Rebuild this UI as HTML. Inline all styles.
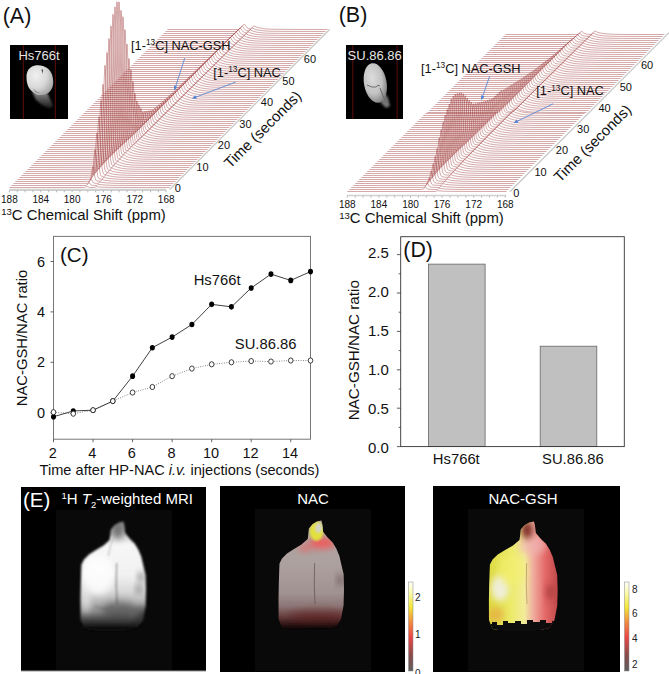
<!DOCTYPE html><html><head><meta charset="utf-8"><style>html,body{margin:0;padding:0;background:#fff;overflow:hidden;width:669px;height:674px;}svg{display:block;} text{font-family:"Liberation Sans", sans-serif;}</style></head><body><svg width="669" height="674" viewBox="0 0 669 674"><defs><filter id="bl1" x="-20%" y="-20%" width="140%" height="140%"><feGaussianBlur stdDeviation="1.2"/></filter><filter id="bl2" x="-20%" y="-20%" width="140%" height="140%"><feGaussianBlur stdDeviation="2.5"/></filter><filter id="bl4" x="-30%" y="-30%" width="160%" height="160%"><feGaussianBlur stdDeviation="4"/></filter></defs><rect width="669" height="674" fill="#fff"/><g fill="none" stroke="#9a3030" stroke-width="0.42"><polyline points="167.4,29.5 238.8,29.5 242.2,26.2 243.8,24.3 244.2,24.2 244.8,24.8 246.2,26.8 247.2,27.9 248.5,28.6 250.5,29.0 253.8,26.0 254.2,26.0 256.8,27.2 260.5,28.1 264.9,28.8 270.5,29.2 285.5,29.4 327.6,29.5"/><polyline points="165.4,31.5 236.5,31.5 236.8,31.5 241.8,26.2 242.2,26.1 242.8,26.7 244.2,28.7 245.2,29.8 246.5,30.5 248.5,31.0 251.8,28.0 252.2,28.0 254.8,29.2 258.5,30.1 262.9,30.7 268.5,31.2 283.5,31.4 325.6,31.5"/><polyline points="163.4,33.5 234.5,33.5 234.8,33.4 237.8,30.3 239.8,28.1 240.2,28.0 240.8,28.6 242.2,30.7 243.2,31.8 244.5,32.5 246.5,33.0 249.8,29.9 250.2,29.9 252.8,31.1 256.5,32.1 260.9,32.7 266.5,33.2 281.5,33.4 323.6,33.5"/><polyline points="161.4,35.5 232.5,35.5 236.2,31.9 237.8,30.0 238.2,29.9 238.8,30.5 240.2,32.6 241.2,33.8 242.5,34.5 244.5,35.0 247.8,31.9 248.2,31.9 250.8,33.1 254.5,34.1 258.9,34.7 264.5,35.1 279.5,35.4 321.6,35.5"/><polyline points="159.4,37.5 230.5,37.5 234.2,33.8 235.8,31.9 236.2,31.8 236.8,32.4 238.2,34.6 239.2,35.7 240.5,36.5 242.5,36.9 245.8,33.9 246.2,33.9 248.8,35.1 252.5,36.1 256.9,36.7 262.5,37.1 277.5,37.4 319.6,37.5"/><polyline points="157.4,39.5 228.2,39.5 228.5,39.4 232.2,35.7 233.8,33.8 234.2,33.7 234.8,34.3 236.2,36.5 237.2,37.7 238.5,38.5 240.2,38.9 240.5,38.9 243.8,35.9 244.2,35.8 246.8,37.1 250.5,38.1 254.9,38.7 260.5,39.1 275.5,39.4 317.6,39.5"/><polyline points="155.4,41.5 226.2,41.5 226.5,41.4 230.2,37.7 231.8,35.7 232.2,35.6 232.8,36.2 234.2,38.5 235.2,39.7 236.5,40.5 238.2,40.9 238.5,40.9 241.8,37.8 242.2,37.8 244.8,39.1 248.5,40.1 252.9,40.7 258.5,41.1 273.5,41.4 315.6,41.5"/><polyline points="153.4,43.5 224.2,43.5 224.5,43.4 228.2,39.7 229.8,37.6 230.2,37.5 230.8,38.1 232.2,40.4 233.2,41.7 234.5,42.5 236.2,42.9 236.5,42.9 239.8,39.8 240.2,39.8 242.8,41.1 246.5,42.0 250.9,42.7 256.5,43.1 271.5,43.4 313.6,43.5"/><polyline points="151.4,45.5 222.2,45.5 222.5,45.4 225.2,42.7 227.8,39.6 228.2,39.4 228.8,40.0 230.2,42.3 231.2,43.7 232.5,44.5 234.2,44.9 234.5,44.8 237.8,41.8 238.2,41.8 240.8,43.0 244.5,44.0 248.9,44.7 254.5,45.1 269.5,45.4 311.6,45.5"/><polyline points="149.4,47.5 220.2,47.5 220.5,47.4 223.5,44.4 225.8,41.5 226.2,41.4 226.8,41.8 228.5,44.8 229.2,45.6 230.5,46.5 232.2,46.9 232.5,46.8 235.8,43.8 236.2,43.7 238.8,45.0 242.5,46.0 246.9,46.7 252.5,47.1 267.5,47.4 309.6,47.5"/><polyline points="147.4,49.5 218.2,49.5 218.5,49.4 221.8,46.0 223.8,43.5 224.2,43.3 224.8,43.7 226.5,46.8 227.2,47.6 228.5,48.5 230.2,48.9 230.8,48.5 233.8,45.7 234.2,45.7 236.8,47.0 240.5,48.0 244.9,48.7 250.5,49.1 265.5,49.4 307.6,49.5"/><polyline points="145.4,51.5 216.2,51.5 216.5,51.4 219.8,48.0 221.8,45.4 222.2,45.2 222.8,45.6 224.5,48.7 225.2,49.6 226.5,50.5 228.2,50.9 231.8,47.7 232.2,47.7 234.8,49.0 238.5,50.0 242.9,50.7 248.5,51.1 263.5,51.4 305.6,51.5"/><polyline points="143.4,53.5 214.2,53.5 214.5,53.4 217.8,50.0 220.2,47.1 220.8,47.5 222.5,50.7 223.2,51.6 224.5,52.4 226.2,52.9 229.8,49.7 230.2,49.7 232.8,51.0 236.5,52.0 240.9,52.7 246.5,53.1 261.5,53.4 303.6,53.5"/><polyline points="141.4,55.5 212.2,55.5 212.5,55.4 215.8,52.0 218.2,49.0 218.8,49.4 220.5,52.7 221.2,53.6 222.2,54.3 224.2,54.9 227.8,51.7 228.2,51.7 230.8,53.0 234.5,54.0 238.9,54.7 244.5,55.1 259.5,55.4 301.6,55.5"/><polyline points="139.4,57.5 210.2,57.5 210.5,57.4 214.2,53.7 216.2,51.0 216.8,51.3 218.5,54.6 219.2,55.6 220.2,56.3 222.2,56.9 225.8,53.6 226.2,53.6 228.8,54.9 232.5,56.0 236.9,56.7 242.5,57.1 257.5,57.4 299.6,57.5"/><polyline points="137.4,59.5 208.2,59.5 208.5,59.4 212.2,55.7 214.2,52.9 214.8,53.2 216.5,56.6 217.2,57.5 218.2,58.3 220.2,58.9 223.8,55.6 224.2,55.6 226.8,56.9 230.5,58.0 234.9,58.7 240.5,59.1 255.5,59.4 297.6,59.5"/><polyline points="135.4,61.5 206.2,61.5 206.5,61.4 210.2,57.7 212.2,54.8 212.5,54.8 212.8,55.1 214.5,58.5 215.2,59.5 216.2,60.3 218.2,60.9 221.8,57.6 222.2,57.6 224.8,58.9 228.5,60.0 232.9,60.7 238.5,61.1 253.5,61.4 295.6,61.5"/><polyline points="133.4,63.5 204.2,63.5 204.5,63.4 208.2,59.7 210.2,56.7 210.5,56.7 211.2,57.5 212.5,60.5 213.2,61.5 214.2,62.3 216.2,62.9 219.8,59.6 220.2,59.6 222.8,60.9 226.5,62.0 230.9,62.7 236.5,63.1 251.5,63.4 293.6,63.5"/><polyline points="131.4,65.5 202.2,65.5 202.5,65.4 205.8,62.0 206.8,60.8 207.8,59.0 208.2,58.7 208.5,58.6 209.2,59.4 210.5,62.5 211.2,63.5 212.2,64.3 214.2,64.9 217.8,61.5 218.2,61.5 220.8,62.9 224.5,63.9 228.9,64.7 234.5,65.1 249.5,65.4 291.6,65.5"/><polyline points="129.4,67.5 200.2,67.5 200.5,67.4 203.8,64.0 204.8,62.8 205.8,61.0 206.2,60.6 206.5,60.6 207.2,61.3 208.5,64.4 209.2,65.5 210.2,66.3 211.8,66.8 212.2,66.8 215.8,63.5 216.2,63.5 218.8,64.9 222.5,65.9 226.9,66.7 232.5,67.1 247.5,67.4 289.6,67.5"/><polyline points="127.4,69.5 198.2,69.5 198.5,69.4 201.8,66.0 202.8,64.8 203.8,62.9 204.2,62.5 204.5,62.4 205.2,63.2 206.5,66.4 207.2,67.5 208.2,68.3 209.8,68.8 210.2,68.8 213.8,65.5 214.2,65.5 216.8,66.9 220.5,67.9 224.9,68.6 230.5,69.1 245.5,69.4 287.6,69.5"/><polyline points="125.4,71.5 196.2,71.5 196.5,71.4 199.8,68.0 200.8,66.7 201.8,64.8 202.2,64.4 202.5,64.3 203.2,65.1 204.5,68.3 205.2,69.4 206.2,70.3 207.8,70.8 208.2,70.8 211.8,67.5 212.2,67.5 214.8,68.8 218.5,69.9 222.9,70.6 228.5,71.1 243.5,71.4 285.6,71.5"/><polyline points="123.4,73.5 194.2,73.5 194.5,73.4 198.2,69.6 199.2,68.2 199.8,66.8 200.2,66.3 200.5,66.2 201.2,67.0 202.5,70.3 203.2,71.4 204.2,72.3 205.8,72.8 206.5,72.5 209.8,69.5 210.2,69.4 212.8,70.8 216.5,71.9 220.9,72.6 226.5,73.1 241.5,73.4 283.6,73.5"/><polyline points="121.4,75.5 192.2,75.5 192.5,75.4 196.2,71.6 197.2,70.1 197.8,68.7 198.2,68.2 198.5,68.1 199.2,68.9 200.5,72.2 201.2,73.4 202.2,74.3 203.8,74.8 204.5,74.5 207.8,71.4 208.2,71.4 210.8,72.8 214.5,73.9 218.9,74.6 224.5,75.1 239.5,75.4 281.6,75.5"/><polyline points="119.4,77.5 190.2,77.5 190.5,77.4 194.2,73.6 195.2,72.1 195.8,70.6 196.2,70.2 196.5,70.0 197.2,70.8 198.5,74.2 199.2,75.4 200.2,76.3 201.8,76.8 202.5,76.4 205.8,73.4 206.2,73.4 208.8,74.8 212.5,75.9 216.9,76.6 222.5,77.1 237.5,77.4 279.6,77.5"/><polyline points="117.4,79.5 188.2,79.5 188.5,79.4 192.2,75.6 193.2,74.1 193.8,72.6 194.2,72.1 194.5,71.9 195.2,72.6 196.5,76.1 197.2,77.4 198.2,78.3 199.8,78.8 200.8,78.1 203.8,75.4 204.2,75.4 206.8,76.8 210.5,77.9 214.9,78.6 220.5,79.1 235.5,79.4 277.6,79.5"/><polyline points="115.4,81.5 186.2,81.5 186.5,81.4 190.2,77.6 191.2,76.0 191.8,74.5 192.2,74.0 192.5,73.8 193.2,74.5 194.5,78.1 195.2,79.4 196.2,80.3 197.8,80.8 198.8,80.1 201.8,77.4 202.2,77.4 204.8,78.8 208.5,79.9 212.9,80.6 218.5,81.1 233.5,81.4 275.6,81.5"/><polyline points="113.4,83.5 184.2,83.5 184.5,83.4 188.2,79.6 189.2,78.0 189.8,76.4 190.2,75.9 190.5,75.7 190.8,75.9 191.2,76.4 192.5,80.1 193.2,81.3 194.2,82.3 195.8,82.8 199.8,79.3 200.2,79.3 202.8,80.7 206.5,81.9 210.9,82.6 216.5,83.1 231.5,83.4 273.6,83.5"/><polyline points="111.4,85.5 182.2,85.5 182.5,85.4 186.2,81.6 187.2,80.0 187.8,78.4 188.5,77.6 188.8,77.8 189.2,78.3 190.5,82.0 191.2,83.3 192.2,84.2 193.8,84.8 197.8,81.3 198.2,81.3 200.8,82.7 204.5,83.9 208.9,84.6 214.5,85.1 229.5,85.4 271.6,85.5"/><polyline points="109.4,87.5 180.2,87.5 180.5,87.4 184.2,83.6 185.2,82.0 185.8,80.3 186.5,79.5 186.8,79.6 187.2,80.2 188.5,84.0 189.2,85.3 190.2,86.2 191.8,86.8 195.8,83.3 196.2,83.3 198.8,84.7 202.5,85.8 206.9,86.6 212.5,87.1 227.5,87.4 269.6,87.5"/><polyline points="107.4,89.5 178.2,89.5 178.5,89.4 182.2,85.6 182.8,84.6 184.2,81.6 184.5,81.4 184.8,81.5 185.2,82.1 186.5,85.9 187.2,87.3 188.2,88.2 189.8,88.8 193.8,85.3 194.2,85.3 196.8,86.7 200.5,87.8 204.9,88.6 210.5,89.1 225.5,89.4 267.6,89.5"/><polyline points="105.4,91.5 176.2,91.5 176.5,91.4 180.2,87.6 181.2,85.9 182.2,83.5 182.5,83.3 182.8,83.4 183.2,83.9 184.5,87.9 185.2,89.3 186.2,90.2 187.8,90.8 191.8,87.3 192.2,87.2 194.8,88.7 198.5,89.8 202.9,90.6 208.5,91.1 223.5,91.4 265.6,91.5"/><polyline points="103.4,93.5 174.2,93.5 174.5,93.4 178.2,89.6 179.2,87.9 180.2,85.5 180.5,85.2 180.8,85.3 181.2,85.8 182.5,89.8 183.2,91.2 184.2,92.2 185.8,92.8 189.8,89.2 190.2,89.2 192.8,90.7 196.5,91.8 200.9,92.6 206.5,93.1 221.5,93.4 263.6,93.5"/><polyline points="101.4,95.5 172.2,95.5 172.5,95.4 176.2,91.6 177.2,89.8 178.2,87.4 178.5,87.1 178.8,87.2 179.2,87.7 180.5,91.8 181.2,93.2 182.2,94.2 183.8,94.8 187.8,91.2 188.2,91.2 190.8,92.7 194.5,93.8 198.9,94.6 204.5,95.1 219.5,95.4 261.6,95.5"/><polyline points="99.4,97.5 170.2,97.5 170.5,97.4 174.2,93.6 175.2,91.8 176.2,89.3 176.5,89.0 176.8,89.1 177.2,89.6 178.5,93.7 179.2,95.2 180.2,96.2 181.8,96.8 185.8,93.2 186.2,93.2 188.8,94.6 192.5,95.8 196.9,96.6 202.5,97.1 217.5,97.4 259.6,97.5"/><polyline points="97.4,99.5 168.2,99.5 168.5,99.4 172.2,95.6 173.2,93.8 174.2,91.2 174.5,90.9 174.8,91.0 175.2,91.5 176.5,95.7 177.2,97.2 178.2,98.2 179.5,98.7 179.8,98.7 183.8,95.2 184.2,95.2 186.8,96.6 190.5,97.8 194.9,98.6 200.5,99.1 215.5,99.4 257.6,99.5"/><polyline points="95.4,101.5 166.2,101.5 166.5,101.4 170.2,97.6 171.2,95.7 172.2,93.1 172.5,92.8 172.8,92.8 173.2,93.4 174.5,97.6 175.2,99.2 176.2,100.2 177.5,100.7 177.8,100.7 181.8,97.2 182.2,97.1 184.8,98.6 188.5,99.8 192.9,100.6 198.5,101.1 213.5,101.4 255.6,101.5"/><polyline points="93.4,103.5 164.2,103.5 164.5,103.4 168.2,99.5 168.8,98.4 169.8,95.7 170.5,94.5 170.8,94.5 171.2,95.1 172.5,99.5 173.2,101.1 174.2,102.2 175.5,102.7 176.2,102.4 179.8,99.1 180.2,99.1 182.8,100.6 186.5,101.8 190.9,102.6 196.5,103.1 211.5,103.4 253.6,103.5"/><polyline points="91.4,105.5 162.2,105.5 162.5,105.4 166.2,101.5 166.8,100.4 168.2,96.7 168.5,96.2 168.8,96.2 169.2,96.8 170.5,101.4 171.2,103.1 172.2,104.2 173.5,104.7 173.8,104.7 174.5,104.1 177.8,101.1 178.2,101.1 180.8,102.6 184.5,103.8 188.9,104.6 194.5,105.1 209.5,105.4 251.6,105.5"/><polyline points="89.4,107.5 160.2,107.5 160.5,107.4 164.2,103.5 165.2,101.5 166.2,98.4 166.5,98.0 166.8,97.9 167.5,99.5 168.5,103.3 169.2,105.0 170.2,106.2 171.5,106.7 171.8,106.7 172.5,106.1 175.8,103.1 176.2,103.1 178.8,104.6 182.5,105.8 186.9,106.6 192.5,107.1 207.5,107.4 249.6,107.5"/><polyline points="87.4,109.5 158.2,109.5 158.5,109.4 162.2,105.5 163.2,103.4 164.2,100.2 164.5,99.7 164.8,99.6 165.5,101.2 166.5,105.1 167.2,107.0 168.2,108.2 169.5,108.7 170.5,108.1 173.8,105.1 174.2,105.1 176.8,106.6 180.5,107.8 184.9,108.6 190.5,109.1 205.5,109.4 247.6,109.5"/><polyline points="85.4,111.5 156.2,111.5 156.5,111.4 160.2,107.5 161.2,105.4 162.2,102.0 162.5,101.4 162.8,101.4 163.5,102.9 164.5,107.0 165.2,108.9 166.2,110.2 167.5,110.7 168.5,110.1 171.8,107.1 172.2,107.1 174.8,108.6 178.5,109.8 182.9,110.6 188.5,111.1 203.5,111.4 245.6,111.5"/><polyline points="83.4,113.5 154.5,113.4 158.2,109.5 159.2,107.3 160.2,103.8 160.5,103.1 160.8,103.1 161.5,104.6 162.5,108.9 163.2,110.9 164.2,112.2 165.5,112.7 166.5,112.1 169.8,109.0 170.2,109.0 172.8,110.6 176.5,111.8 180.9,112.6 186.5,113.1 201.5,113.4 243.6,113.5"/><polyline points="81.4,115.5 152.5,115.4 156.2,111.5 157.2,109.2 158.2,105.5 158.5,104.9 158.8,104.8 159.5,106.4 160.5,110.8 161.2,112.8 162.2,114.1 163.5,114.7 164.8,113.8 167.8,111.0 168.2,111.0 170.8,112.5 174.5,113.7 178.9,114.5 184.5,115.1 199.5,115.4 241.6,115.5"/><polyline points="79.4,117.5 150.5,117.4 154.2,113.4 155.2,111.1 156.2,107.3 156.5,106.6 156.8,106.5 157.5,108.1 158.5,112.6 159.2,114.8 160.2,116.1 161.5,116.7 162.8,115.8 165.8,113.0 166.2,113.0 168.8,114.5 172.5,115.7 176.9,116.5 182.5,117.1 197.5,117.4 239.6,117.5"/><polyline points="77.4,119.5 148.5,119.5 152.2,115.4 153.2,113.0 154.2,109.1 154.5,108.3 154.8,108.2 155.5,109.8 156.5,114.5 157.2,116.7 158.2,118.1 159.5,118.7 160.8,117.7 163.8,115.0 164.2,115.0 166.8,116.5 170.5,117.7 174.9,118.5 180.5,119.1 195.5,119.4 237.6,119.5"/><polyline points="75.4,121.5 146.5,121.5 149.2,118.7 150.2,117.4 151.2,115.0 152.2,110.9 152.5,110.1 152.8,109.9 153.5,111.5 154.5,116.4 155.2,118.6 156.2,120.1 157.5,120.7 158.8,119.7 161.8,117.0 162.2,117.0 164.8,118.5 168.5,119.7 172.9,120.5 178.5,121.1 193.5,121.4 235.6,121.5"/><polyline points="73.4,123.5 144.5,123.4 147.5,120.3 148.5,118.6 149.2,116.5 150.2,111.6 150.5,110.6 150.8,110.3 151.2,110.8 151.5,112.1 152.5,117.7 153.2,120.3 153.5,121.1 154.2,122.0 155.5,122.7 156.8,121.7 159.8,119.0 160.2,119.0 162.8,120.5 166.5,121.7 170.9,122.5 176.5,123.1 191.5,123.4 233.6,123.5"/><polyline points="71.4,125.5 142.5,125.4 145.5,122.3 146.5,120.4 147.2,118.0 148.2,112.4 148.5,111.2 148.8,110.7 149.2,111.2 149.5,112.6 151.2,122.0 151.5,122.9 152.2,124.0 153.5,124.7 154.8,123.7 157.8,121.0 158.2,121.0 160.8,122.5 164.5,123.7 168.9,124.5 174.5,125.1 189.5,125.4 231.6,125.5"/><polyline points="69.4,127.5 140.5,127.4 143.5,124.2 144.5,122.2 145.2,119.5 146.2,113.2 146.5,111.7 146.8,111.1 147.2,111.6 147.5,113.2 149.2,123.7 149.5,124.7 150.2,125.9 151.5,126.6 152.8,125.7 155.8,123.0 156.2,122.9 158.8,124.5 162.5,125.7 166.9,126.5 172.5,127.1 187.5,127.4 229.6,127.5"/><polyline points="67.4,129.5 138.5,129.4 141.2,126.6 142.2,125.0 142.8,122.7 144.2,113.9 144.5,112.2 144.8,111.5 145.2,112.0 145.5,113.7 147.2,125.3 147.5,126.5 148.2,127.8 149.5,128.6 150.8,127.7 153.8,125.0 154.2,125.0 156.8,126.5 160.5,127.7 164.9,128.5 170.2,129.0 185.2,129.4 227.6,129.5"/><polyline points="65.4,131.5 136.5,131.4 139.2,128.6 140.2,126.8 140.8,124.4 142.2,114.6 142.5,112.8 142.8,111.9 143.2,112.5 143.5,114.2 144.8,125.0 145.5,128.3 146.2,129.7 146.8,130.3 147.5,130.6 148.8,129.7 151.8,127.0 152.2,127.0 154.8,128.5 158.5,129.7 162.9,130.5 168.2,131.0 183.2,131.4 225.6,131.5"/><polyline points="63.4,133.5 134.5,133.4 137.2,130.4 138.2,128.2 138.8,124.9 140.2,112.0 140.8,108.3 141.2,108.8 141.5,110.9 142.8,124.9 143.5,129.3 144.2,131.3 144.8,132.1 145.5,132.5 146.8,131.7 149.8,129.0 150.2,129.0 152.8,130.5 156.5,131.7 160.9,132.5 166.2,133.0 181.2,133.4 223.6,133.5"/><polyline points="61.4,135.5 120.5,135.5 132.5,135.3 134.2,133.6 135.2,132.3 136.2,129.5 136.8,125.1 138.2,109.2 138.8,104.6 139.2,105.1 139.5,107.5 140.8,124.4 141.5,130.1 142.2,132.8 142.8,133.9 143.5,134.4 143.8,134.4 144.8,133.6 147.8,131.0 148.2,131.0 150.8,132.5 154.5,133.7 158.9,134.5 164.2,135.0 179.2,135.4 221.6,135.5"/><polyline points="59.4,137.5 118.5,137.5 130.5,137.3 132.2,135.5 133.2,134.0 134.2,130.5 134.8,125.2 136.2,106.3 136.8,100.9 137.2,101.4 137.5,104.1 138.8,123.7 139.5,130.7 140.2,134.2 140.8,135.7 141.5,136.2 142.2,136.1 145.8,133.0 146.2,133.0 148.8,134.5 152.5,135.7 156.9,136.5 162.2,137.0 177.2,137.4 219.6,137.5"/><polyline points="57.4,139.5 118.8,139.4 126.5,139.3 128.5,139.1 128.8,139.0 130.5,136.8 131.2,135.5 131.8,132.8 132.2,130.6 132.8,123.3 134.2,99.8 134.8,93.3 135.2,93.7 135.5,96.8 137.5,129.8 137.8,132.8 138.5,136.2 138.8,137.1 139.5,138.0 139.8,138.1 140.5,137.7 143.8,135.0 144.2,135.0 146.8,136.5 150.5,137.7 154.9,138.5 160.2,139.0 175.2,139.4 217.6,139.5"/><polyline points="55.4,141.5 116.1,141.4 123.8,141.2 126.2,141.0 126.8,140.8 128.2,139.0 128.8,137.5 129.5,134.6 129.8,132.3 130.5,124.5 132.2,89.5 132.8,81.6 133.2,82.1 133.5,85.6 135.2,121.3 135.8,131.1 136.2,134.3 136.8,137.9 137.2,138.8 137.8,139.7 139.2,139.1 141.8,136.9 142.5,137.1 143.5,137.8 145.2,138.6 148.5,139.7 152.9,140.5 158.2,141.0 173.2,141.4 215.6,141.5"/><polyline points="53.4,143.5 113.5,143.4 121.5,143.2 124.8,142.7 126.2,140.7 127.2,137.7 128.2,128.8 128.8,116.4 130.2,80.0 130.8,70.0 131.2,70.5 131.5,74.7 133.2,118.7 133.8,130.9 134.2,134.7 134.8,139.2 135.2,140.3 135.8,141.5 137.2,141.0 139.8,138.9 140.5,139.0 141.5,139.8 143.2,140.6 146.5,141.7 150.9,142.5 156.2,143.0 171.2,143.4 213.6,143.5"/><polyline points="51.4,145.5 111.1,145.4 119.2,145.1 122.8,144.6 124.2,142.5 125.2,139.0 125.8,133.4 126.2,128.6 126.8,113.9 128.2,70.5 128.8,58.4 129.2,58.8 129.5,63.8 131.2,116.1 131.8,130.6 132.5,138.4 133.2,141.9 133.8,143.2 134.5,143.2 135.2,142.9 137.8,140.8 138.5,141.0 139.5,141.8 141.2,142.6 144.5,143.7 148.9,144.5 154.2,145.0 169.5,145.4 211.6,145.5"/><polyline points="49.4,147.5 111.1,147.3 118.5,146.9 120.8,146.4 121.2,146.0 122.5,143.3 123.2,140.3 123.8,133.6 124.2,128.0 124.8,110.4 126.2,58.6 126.8,44.0 127.2,44.4 127.5,50.3 129.2,112.6 129.8,129.9 130.5,139.2 131.2,143.3 131.8,144.9 132.5,145.0 133.2,144.7 135.8,142.8 136.5,143.0 137.5,143.8 139.2,144.6 142.5,145.7 146.9,146.5 152.2,147.0 167.5,147.4 209.6,147.5"/><polyline points="47.4,149.5 108.8,149.3 116.2,148.9 118.5,148.4 119.2,147.9 119.8,146.7 120.5,145.0 121.2,141.5 121.8,133.8 122.2,127.3 122.8,107.0 124.2,46.8 124.8,29.6 125.2,30.0 125.5,36.8 127.2,109.1 127.8,129.3 128.5,140.0 129.2,144.7 129.8,146.6 130.2,146.9 131.2,146.6 133.8,144.8 134.5,145.0 135.5,145.7 137.2,146.6 140.5,147.7 144.9,148.5 150.2,149.0 165.5,149.4 207.6,149.5"/><polyline points="45.4,151.5 91.8,151.4 107.8,151.3 112.1,151.0 115.2,150.6 116.8,150.1 117.5,149.2 118.5,146.7 119.2,142.8 119.8,134.3 120.2,127.0 120.8,104.1 122.2,36.2 122.8,16.7 123.2,17.1 123.5,24.7 125.2,106.1 125.8,128.8 126.5,140.9 127.2,146.2 127.8,148.3 128.2,148.7 128.8,148.7 130.2,148.0 131.8,146.7 132.2,146.8 133.5,147.7 135.2,148.6 139.2,149.8 144.5,150.7 151.5,151.2 165.9,151.4 205.6,151.5"/><polyline points="43.4,153.5 89.5,153.4 105.5,153.3 109.8,153.0 112.8,152.6 114.8,152.0 115.5,151.2 116.5,148.5 117.2,144.5 117.8,135.4 118.2,127.6 118.8,103.3 120.2,31.1 120.8,10.3 121.2,10.7 121.5,18.7 123.2,105.3 123.8,129.4 124.5,142.3 125.2,147.9 125.8,150.2 126.2,150.6 126.8,150.6 128.2,150.0 129.8,148.8 130.2,148.8 131.5,149.8 133.2,150.6 137.2,151.8 142.2,152.7 149.2,153.2 163.9,153.4 203.6,153.5"/><polyline points="41.4,155.5 87.5,155.4 103.5,155.2 107.8,155.0 110.8,154.6 112.8,153.9 113.2,153.7 113.5,153.1 114.5,150.4 115.2,146.1 115.8,136.3 116.2,128.0 116.8,101.9 118.2,24.3 118.8,1.9 119.2,2.2 119.5,10.8 121.2,103.8 121.8,129.7 122.5,143.5 123.2,149.6 123.8,152.0 124.2,152.5 124.8,152.6 126.2,152.0 127.8,150.8 128.2,150.8 129.5,151.8 130.8,152.4 134.8,153.8 139.9,154.6 146.5,155.1 161.9,155.4 201.6,155.5"/><polyline points="39.4,157.5 85.1,157.4 101.1,157.2 105.5,157.0 108.5,156.6 110.8,155.9 111.5,155.2 112.5,152.4 113.2,148.1 113.8,138.2 114.2,129.8 114.8,103.3 116.2,24.7 116.8,1.9 117.2,2.2 117.5,10.9 119.2,105.2 119.8,131.4 120.5,145.4 121.2,151.5 121.8,153.9 122.2,154.5 122.8,154.6 124.2,154.0 125.8,152.8 126.2,152.9 127.5,153.8 128.8,154.5 132.8,155.8 137.9,156.6 144.5,157.1 159.9,157.4 199.6,157.5"/><polyline points="37.4,159.5 82.8,159.4 98.8,159.3 106.2,158.7 108.5,158.1 109.5,157.3 110.5,154.6 111.2,150.3 111.8,140.6 112.2,132.3 112.8,106.4 114.2,29.2 114.8,6.8 115.2,7.2 115.5,15.7 117.2,108.2 117.8,133.9 118.5,147.6 119.2,153.6 119.8,156.0 120.2,156.6 120.5,156.8 120.8,156.8 122.2,156.1 123.8,155.0 124.2,155.0 126.8,156.6 130.8,157.8 135.9,158.7 142.5,159.1 157.9,159.4 197.6,159.5"/><polyline points="35.4,161.5 96.5,161.3 103.8,160.8 106.2,160.2 107.5,159.5 108.5,156.9 109.2,152.7 109.8,143.4 110.2,135.4 110.8,110.3 112.2,35.9 112.8,14.3 113.2,14.6 113.5,22.9 115.2,112.0 115.8,136.8 116.5,150.0 117.2,155.9 117.8,158.1 118.5,159.0 118.8,158.9 120.2,158.3 121.8,157.1 122.2,157.1 124.8,158.6 128.8,159.9 133.9,160.7 140.5,161.1 155.9,161.4 195.6,161.5"/><polyline points="33.4,163.5 79.8,163.4 95.8,163.2 100.1,163.0 103.2,162.6 105.2,161.9 105.8,161.1 106.5,159.2 107.2,155.3 107.8,146.5 108.2,139.0 108.8,115.6 110.2,46.0 110.8,25.9 111.2,26.2 111.5,33.9 113.2,117.2 113.8,140.4 114.5,152.8 115.2,158.2 115.8,160.3 116.5,161.2 116.8,161.2 118.2,160.5 119.8,159.3 120.2,159.3 122.8,160.7 126.8,161.9 131.9,162.7 138.5,163.2 153.9,163.4 193.6,163.5"/><polyline points="31.4,165.5 93.5,165.3 97.8,165.1 100.8,164.7 102.8,164.2 103.8,163.5 104.5,161.7 105.2,158.0 105.8,149.9 106.2,142.9 106.8,121.3 108.2,57.1 108.8,38.6 109.2,39.0 109.5,46.1 111.2,122.8 111.8,144.2 112.5,155.6 113.2,160.6 113.8,162.6 114.5,163.4 114.8,163.4 116.2,162.7 117.8,161.4 118.2,161.5 119.5,162.3 121.2,163.0 125.2,164.1 130.2,164.8 136.9,165.2 151.9,165.4 191.6,165.5"/><polyline points="29.4,167.5 91.5,167.3 98.5,166.9 100.5,166.4 101.8,165.7 102.5,164.2 103.2,160.8 103.8,153.4 104.2,147.0 104.8,127.4 106.2,69.3 106.8,52.5 107.2,52.8 107.5,59.3 109.2,128.8 109.8,148.2 110.5,158.5 111.2,163.0 111.8,164.8 112.8,165.7 115.8,163.6 116.2,163.7 117.5,164.4 119.2,165.1 123.2,166.1 128.2,166.8 135.2,167.2 149.9,167.4 189.6,167.5"/><polyline points="27.4,169.5 90.5,169.3 94.8,169.1 97.5,168.8 99.2,168.3 100.2,167.5 100.8,165.4 101.5,160.8 102.2,151.0 102.8,133.2 104.2,80.5 104.8,65.4 105.2,65.7 105.5,71.6 107.2,134.5 107.8,152.0 108.5,161.3 109.2,165.4 109.8,167.1 110.8,167.9 111.8,167.4 113.8,165.8 114.2,165.9 117.2,167.2 121.2,168.2 126.5,168.9 133.5,169.2 147.9,169.4 187.6,169.5"/><polyline points="25.4,171.5 88.5,171.3 95.5,170.9 97.2,170.5 98.2,169.8 98.5,169.3 99.2,166.6 99.8,160.8 100.2,156.0 100.8,141.0 102.2,96.9 102.8,84.3 103.2,84.6 103.5,89.5 105.2,142.2 105.8,156.8 106.5,164.6 107.2,168.1 107.8,169.4 108.5,170.0 109.2,170.2 111.8,168.1 112.2,168.1 114.5,169.2 118.2,170.1 122.5,170.7 128.2,171.1 143.5,171.4 185.6,171.5"/><polyline points="23.4,173.5 86.5,173.4 93.5,173.0 95.2,172.7 96.2,172.1 96.8,170.9 97.2,169.5 98.2,160.5 98.8,147.9 100.2,110.9 100.8,100.5 101.2,100.8 101.5,104.9 103.2,148.9 103.8,161.2 104.5,167.7 105.2,170.6 105.8,171.7 107.2,172.5 109.8,170.4 110.2,170.4 112.5,171.3 116.2,172.2 120.5,172.8 126.2,173.2 141.5,173.4 183.6,173.5"/><polyline points="21.4,175.5 84.1,175.4 91.5,175.1 93.2,174.8 94.2,174.4 94.8,173.6 95.2,172.6 96.2,165.2 96.8,155.0 98.2,125.1 98.8,116.7 99.2,117.0 99.5,120.3 101.2,155.8 101.8,165.6 102.5,170.8 103.2,173.1 103.8,174.0 104.5,174.4 105.5,174.7 107.8,172.7 108.2,172.6 110.8,173.6 114.5,174.4 118.9,174.9 124.2,175.2 139.5,175.5 181.6,175.5"/><polyline points="19.4,177.5 82.8,177.4 89.8,177.2 91.5,177.0 92.5,176.7 93.2,176.0 93.5,175.1 94.5,168.3 96.2,140.2 96.8,133.0 97.2,133.2 97.5,136.1 99.5,168.7 99.8,171.5 100.5,174.8 101.2,176.0 101.8,176.5 103.5,176.9 105.8,175.0 106.2,175.0 108.8,175.8 112.5,176.5 116.9,177.0 122.2,177.2 137.2,177.5 179.6,177.5"/><polyline points="17.4,179.5 81.5,179.5 88.2,179.3 90.8,179.0 91.5,178.5 91.8,177.8 92.5,174.7 93.2,168.6 94.2,155.3 94.8,149.9 95.2,150.1 95.5,152.3 96.8,169.2 97.5,174.8 98.2,177.4 98.8,178.4 99.5,178.8 101.8,179.2 103.8,177.3 104.2,177.3 106.8,178.1 110.5,178.6 120.2,179.3 135.2,179.5 177.6,179.5"/><polyline points="15.4,181.5 80.1,181.5 89.2,181.3 90.2,180.7 90.8,178.5 92.2,169.7 92.8,166.8 93.2,166.9 93.5,168.2 95.2,178.6 95.8,180.2 96.5,180.8 97.2,181.0 100.2,181.3 101.8,179.7 102.2,179.6 104.8,180.3 108.5,180.8 118.2,181.3 175.6,181.5"/><polyline points="13.4,183.5 87.5,183.4 88.5,183.2 88.8,182.8 90.2,179.5 90.8,178.6 91.2,178.7 91.5,179.2 92.5,181.5 93.2,182.6 94.2,183.1 95.8,183.3 98.5,183.3 99.8,182.0 100.2,182.0 102.8,182.5 106.5,182.9 116.5,183.4 173.6,183.5"/><polyline points="11.4,185.5 85.5,185.5 86.5,185.3 87.2,185.0 88.2,183.1 88.8,182.6 89.5,182.9 90.5,184.4 91.2,185.0 91.8,185.2 93.5,185.4 96.5,185.5 96.8,185.4 97.8,184.4 98.2,184.3 104.5,185.0 114.5,185.4 171.6,185.5"/><polyline points="9.4,187.5 83.5,187.5 84.8,187.4 86.5,186.6 87.2,186.5 89.2,187.4 90.8,187.5 94.8,187.5 95.2,187.4 95.8,186.8 96.2,186.7 102.5,187.2 112.5,187.4 169.6,187.5"/></g><line x1="9.4" y1="189.8" x2="166.2" y2="189.8" stroke="#d0d0d0" stroke-width="2.2"/><line x1="9.4" y1="190.6" x2="9.4" y2="192.3" stroke="#888" stroke-width="0.6"/><line x1="17.24" y1="190.6" x2="17.24" y2="192.3" stroke="#888" stroke-width="0.6"/><line x1="25.08" y1="190.6" x2="25.08" y2="192.3" stroke="#888" stroke-width="0.6"/><line x1="32.92" y1="190.6" x2="32.92" y2="192.3" stroke="#888" stroke-width="0.6"/><line x1="40.76" y1="190.6" x2="40.76" y2="192.3" stroke="#888" stroke-width="0.6"/><line x1="48.6" y1="190.6" x2="48.6" y2="192.3" stroke="#888" stroke-width="0.6"/><line x1="56.44" y1="190.6" x2="56.44" y2="192.3" stroke="#888" stroke-width="0.6"/><line x1="64.28" y1="190.6" x2="64.28" y2="192.3" stroke="#888" stroke-width="0.6"/><line x1="72.12" y1="190.6" x2="72.12" y2="192.3" stroke="#888" stroke-width="0.6"/><line x1="79.96" y1="190.6" x2="79.96" y2="192.3" stroke="#888" stroke-width="0.6"/><line x1="87.8" y1="190.6" x2="87.8" y2="192.3" stroke="#888" stroke-width="0.6"/><line x1="95.64" y1="190.6" x2="95.64" y2="192.3" stroke="#888" stroke-width="0.6"/><line x1="103.48" y1="190.6" x2="103.48" y2="192.3" stroke="#888" stroke-width="0.6"/><line x1="111.32" y1="190.6" x2="111.32" y2="192.3" stroke="#888" stroke-width="0.6"/><line x1="119.16" y1="190.6" x2="119.16" y2="192.3" stroke="#888" stroke-width="0.6"/><line x1="127" y1="190.6" x2="127" y2="192.3" stroke="#888" stroke-width="0.6"/><line x1="134.84" y1="190.6" x2="134.84" y2="192.3" stroke="#888" stroke-width="0.6"/><line x1="142.68" y1="190.6" x2="142.68" y2="192.3" stroke="#888" stroke-width="0.6"/><line x1="150.52" y1="190.6" x2="150.52" y2="192.3" stroke="#888" stroke-width="0.6"/><line x1="158.36" y1="190.6" x2="158.36" y2="192.3" stroke="#888" stroke-width="0.6"/><line x1="166.2" y1="190.6" x2="166.2" y2="192.3" stroke="#888" stroke-width="0.6"/><text x="9.4" y="203.2" text-anchor="middle" font-size="10" fill="#111">188</text><text x="40.76" y="203.2" text-anchor="middle" font-size="10" fill="#111">184</text><text x="72.12" y="203.2" text-anchor="middle" font-size="10" fill="#111">180</text><text x="103.48" y="203.2" text-anchor="middle" font-size="10" fill="#111">176</text><text x="134.84" y="203.2" text-anchor="middle" font-size="10" fill="#111">172</text><text x="166.2" y="203.2" text-anchor="middle" font-size="10" fill="#111">168</text><line x1="169.8" y1="189.5" x2="329.8" y2="29.2" stroke="#c8c8c8" stroke-width="1.3"/><text x="174.8" y="192.3" font-size="11" fill="#111">0</text><text x="196.3" y="170.8" font-size="11" fill="#111">10</text><text x="217.8" y="149.3" font-size="11" fill="#111">20</text><text x="239.3" y="127.8" font-size="11" fill="#111">30</text><text x="260.8" y="106.3" font-size="11" fill="#111">40</text><text x="282.3" y="84.8" font-size="11" fill="#111">50</text><text x="303.8" y="63.3" font-size="11" fill="#111">60</text><text x="1.2" y="219.5" font-size="14.9" fill="#111"><tspan font-size="9.6" dy="-4.9">13</tspan><tspan dy="4.9">C Chemical Shift (ppm)</tspan></text><text transform="translate(230.2,169.1) rotate(-45)" font-size="14.9" fill="#111">Time (seconds)</text><text x="2.7" y="23.4" font-size="21.5" fill="#111">(A)</text><text x="131" y="49.8" font-size="12.8" fill="#111">[1-<tspan font-size="8.3" dy="-4.5">13</tspan><tspan dy="4.5">C] NAC-GSH</tspan></text><text x="213.3" y="76.5" font-size="12.8" fill="#111">[1-<tspan font-size="8.3" dy="-4.5">13</tspan><tspan dy="4.5">C] NAC</tspan></text><line x1="184.8" y1="58" x2="175.68" y2="86.22" stroke="#4a7fd4" stroke-width="0.8"/><polygon points="174.3,90.5 173.97,85.66 177.4,86.77" fill="#4a7fd4"/><line x1="235.6" y1="82.1" x2="196.11" y2="97.01" stroke="#4a7fd4" stroke-width="0.8"/><polygon points="191.9,98.6 195.47,95.33 196.75,98.69" fill="#4a7fd4"/><g fill="none" stroke="#9a3030" stroke-width="0.42"><polyline points="505.3,34.5 578.1,34.5 578.4,34.4 581.4,31.2 582.1,31.6 583.7,33.1 585.1,33.7 587.4,34.2 591.4,34.4 594.7,31.2 595.1,31.1 597.7,32.3 601.4,33.2 605.8,33.8 611.1,34.2 625.5,34.5 664.5,34.5"/><polyline points="503.3,36.5 575.7,36.5 576.1,36.4 579.4,32.9 580.1,33.3 581.7,35.0 582.7,35.5 584.7,36.0 588.1,36.3 589.4,36.4 592.7,33.1 593.1,33.1 595.7,34.2 599.4,35.2 603.8,35.8 609.1,36.2 623.5,36.4 662.5,36.5"/><polyline points="501.3,38.5 573.7,38.5 577.4,34.6 578.1,35.0 579.7,36.9 580.7,37.5 582.7,38.0 586.1,38.3 587.4,38.3 590.7,35.1 591.1,35.1 593.7,36.2 597.4,37.1 601.8,37.8 607.1,38.2 621.5,38.4 660.5,38.5"/><polyline points="499.3,40.5 571.4,40.5 575.4,36.3 576.1,36.8 577.7,38.7 578.7,39.4 580.7,40.0 584.1,40.3 585.4,40.3 588.7,37.1 589.1,37.0 591.7,38.2 595.4,39.1 599.8,39.8 605.1,40.1 619.5,40.4 658.5,40.5"/><polyline points="497.3,42.5 569.1,42.5 573.4,38.0 574.1,38.5 575.7,40.6 576.7,41.3 578.7,41.9 582.1,42.3 583.4,42.3 586.7,39.0 587.1,39.0 589.7,40.2 593.4,41.1 597.8,41.8 603.1,42.1 617.5,42.4 656.5,42.5"/><polyline points="495.3,44.5 566.7,44.5 568.4,42.9 571.4,39.6 572.1,40.2 573.7,42.5 574.7,43.2 576.7,43.9 580.1,44.2 581.4,44.2 584.7,41.0 585.1,41.0 587.7,42.2 591.4,43.1 595.8,43.7 601.1,44.1 615.5,44.4 654.5,44.5"/><polyline points="493.3,46.5 564.7,46.5 566.7,44.5 569.4,41.4 570.1,42.0 571.4,44.0 572.7,45.2 574.7,45.9 577.7,46.2 579.4,46.2 582.7,43.0 583.1,43.0 585.7,44.1 589.4,45.1 593.8,45.7 599.1,46.1 613.5,46.4 652.5,46.5"/><polyline points="491.3,48.5 562.7,48.5 564.7,46.5 566.7,43.7 567.4,43.1 568.1,43.8 569.4,46.0 570.7,47.2 572.7,47.9 575.7,48.2 577.4,48.2 580.7,44.9 581.1,44.9 583.7,46.1 587.4,47.1 591.8,47.7 597.1,48.1 611.5,48.4 650.5,48.5"/><polyline points="489.3,50.5 560.7,50.5 562.7,48.4 564.7,45.4 565.4,44.8 566.1,45.6 567.4,47.9 568.4,48.9 570.4,49.8 573.4,50.2 575.4,50.2 578.7,46.9 579.1,46.9 581.7,48.1 585.4,49.1 589.8,49.7 595.1,50.1 609.5,50.4 648.5,50.5"/><polyline points="487.3,52.5 558.7,52.5 560.7,50.4 562.7,47.2 563.4,46.5 564.1,47.3 565.4,49.9 566.4,50.9 568.4,51.8 571.4,52.2 573.1,52.3 573.4,52.1 576.7,48.9 577.1,48.9 579.7,50.1 583.4,51.1 587.8,51.7 593.1,52.1 607.5,52.4 646.5,52.5"/><polyline points="485.3,54.5 556.7,54.5 558.7,52.4 560.7,48.9 561.4,48.2 562.1,49.1 563.4,51.8 564.4,52.9 566.4,53.8 569.4,54.2 571.1,54.3 571.4,54.1 574.7,50.9 575.1,50.9 577.7,52.1 581.4,53.1 585.8,53.7 591.1,54.1 605.5,54.4 644.5,54.5"/><polyline points="483.3,56.5 554.7,56.5 556.7,54.3 558.7,50.7 559.4,49.9 560.1,50.9 561.4,53.8 562.4,54.9 564.1,55.7 567.1,56.2 569.1,56.3 569.4,56.1 572.7,52.8 573.1,52.8 575.7,54.1 579.4,55.1 583.8,55.7 589.1,56.1 603.5,56.4 642.5,56.5"/><polyline points="481.3,58.5 552.7,58.5 554.7,56.3 556.7,52.4 557.4,51.7 558.1,52.7 559.4,55.7 560.4,56.9 562.1,57.7 565.1,58.2 567.1,58.3 570.7,54.8 571.1,54.8 573.7,56.1 577.4,57.0 581.8,57.7 587.1,58.1 601.5,58.4 640.5,58.5"/><polyline points="479.3,60.5 550.7,60.5 552.7,58.2 554.7,54.1 555.4,53.4 556.1,54.5 557.4,57.7 558.4,58.9 560.1,59.7 563.1,60.2 565.1,60.3 568.7,56.8 569.1,56.8 571.7,58.0 575.4,59.0 579.8,59.7 585.1,60.1 599.5,60.4 638.5,60.5"/><polyline points="477.3,62.5 548.7,62.5 550.7,60.2 552.7,55.9 553.4,55.1 554.1,56.3 555.4,59.6 556.1,60.6 556.7,61.1 557.7,61.6 560.7,62.1 563.1,62.3 566.7,58.8 567.1,58.8 569.7,60.0 573.4,61.0 577.8,61.7 583.1,62.1 597.5,62.4 636.5,62.5"/><polyline points="475.3,64.5 546.7,64.5 548.7,62.1 550.7,57.4 551.1,56.9 551.4,56.7 552.1,57.9 553.4,61.5 554.1,62.5 554.7,63.1 555.7,63.6 558.7,64.1 561.1,64.3 564.7,60.8 565.1,60.7 567.7,62.0 571.4,63.0 575.8,63.7 581.1,64.1 595.5,64.4 634.5,64.5"/><polyline points="473.3,66.5 544.7,66.4 545.7,65.5 546.7,64.1 548.7,59.0 549.1,58.4 549.4,58.2 550.1,59.6 551.1,62.6 552.1,64.5 552.7,65.1 553.7,65.6 556.7,66.1 559.1,66.3 562.7,62.7 563.1,62.7 565.7,64.0 569.4,65.0 573.8,65.7 579.1,66.1 593.5,66.4 632.5,66.5"/><polyline points="471.3,68.5 542.7,68.4 543.7,67.4 544.7,66.0 546.7,60.6 547.1,59.9 547.4,59.7 548.1,61.2 549.1,64.5 550.1,66.4 550.7,67.1 551.7,67.6 554.4,68.1 557.1,68.3 560.7,64.7 561.1,64.7 563.7,66.0 567.4,67.0 571.8,67.7 577.1,68.1 591.5,68.4 630.5,68.5"/><polyline points="469.3,70.5 540.7,70.4 541.7,69.4 542.7,68.0 544.7,62.2 545.1,61.5 545.4,61.3 546.1,62.9 547.1,66.3 548.1,68.4 548.7,69.0 549.7,69.5 552.4,70.1 555.1,70.2 558.7,66.7 559.1,66.7 561.7,68.0 565.4,69.0 569.8,69.7 575.1,70.1 589.5,70.4 628.5,70.5"/><polyline points="467.3,72.5 538.7,72.4 539.7,71.4 540.7,69.9 542.7,63.8 543.1,63.0 543.4,62.8 544.1,64.5 545.1,68.2 546.1,70.4 547.4,71.4 550.1,72.0 553.1,72.2 556.7,68.7 557.1,68.6 559.7,69.9 563.4,71.0 567.8,71.7 573.1,72.1 587.5,72.4 626.5,72.5"/><polyline points="465.3,74.5 536.7,74.4 537.7,73.4 538.7,71.8 539.4,70.1 540.7,65.3 541.1,64.6 541.4,64.4 542.1,66.1 543.1,70.0 544.1,72.3 545.4,73.4 548.1,74.0 551.1,74.2 554.7,70.6 555.1,70.6 557.7,71.9 561.4,73.0 565.8,73.7 571.1,74.1 585.5,74.4 624.5,74.5"/><polyline points="463.3,76.5 534.7,76.4 535.7,75.4 536.7,73.7 537.4,71.9 538.7,66.9 539.1,66.1 539.4,65.9 540.1,67.8 541.1,71.9 542.1,74.3 542.7,75.0 543.4,75.4 546.1,76.0 549.1,76.2 552.7,72.6 553.1,72.6 555.7,73.9 559.4,75.0 563.8,75.7 569.1,76.1 583.5,76.4 622.5,76.5"/><polyline points="461.3,78.5 532.7,78.4 533.7,77.4 534.7,75.7 535.4,73.7 536.7,68.5 537.1,67.7 537.4,67.5 538.1,69.4 539.1,73.7 540.1,76.2 540.7,77.0 541.4,77.4 544.1,78.0 547.1,78.1 550.7,74.6 551.1,74.6 553.7,75.9 557.4,77.0 561.8,77.7 567.1,78.1 581.5,78.4 620.5,78.5"/><polyline points="459.3,80.5 530.7,80.4 532.1,78.9 532.7,77.6 533.4,75.6 534.7,70.1 535.1,69.2 535.4,69.0 536.1,71.1 537.1,75.6 538.1,78.2 538.7,79.0 539.4,79.4 541.7,80.0 544.7,80.2 545.1,80.1 548.7,76.6 549.1,76.5 551.7,77.9 555.4,78.9 559.8,79.7 565.1,80.1 579.5,80.4 618.5,80.5"/><polyline points="457.3,82.5 528.7,82.4 530.1,80.8 530.7,79.5 531.4,77.4 532.7,71.5 533.1,70.7 533.4,70.5 534.1,72.6 535.1,77.4 536.1,80.2 536.7,80.9 537.4,81.4 539.7,82.0 542.7,82.2 543.1,82.1 546.7,78.5 547.1,78.5 549.7,79.9 553.4,80.9 557.8,81.6 563.1,82.1 577.5,82.4 616.5,82.5"/><polyline points="455.3,84.5 526.7,84.4 528.1,82.8 528.7,81.4 529.4,79.1 530.7,72.9 531.1,72.0 531.4,71.8 532.1,74.1 533.1,79.2 534.1,82.1 534.7,82.9 535.4,83.4 537.7,84.0 540.7,84.2 544.7,80.5 545.1,80.5 547.7,81.8 551.4,82.9 555.8,83.6 561.1,84.1 575.5,84.4 614.5,84.5"/><polyline points="453.3,86.5 524.7,86.4 526.1,84.7 526.7,83.3 527.4,80.9 528.7,74.3 529.1,73.4 529.4,73.2 530.1,75.6 531.1,80.9 532.1,84.0 533.1,85.1 535.4,85.9 538.7,86.2 542.7,82.5 543.1,82.5 545.7,83.8 549.4,84.9 553.8,85.6 559.1,86.1 573.5,86.4 612.5,86.5"/><polyline points="451.3,88.5 522.7,88.4 524.1,86.7 524.7,85.2 525.4,82.6 526.7,75.7 527.1,74.7 527.4,74.5 528.1,77.1 529.1,82.7 530.1,86.0 531.1,87.1 532.1,87.6 533.4,87.9 536.7,88.2 540.7,84.5 541.1,84.5 543.7,85.8 547.4,86.9 551.8,87.6 557.1,88.1 571.5,88.4 610.5,88.5"/><polyline points="449.3,90.5 520.7,90.3 522.1,88.7 522.7,87.1 523.4,84.4 524.7,77.1 525.1,76.1 525.4,75.9 526.1,78.6 527.1,84.4 528.1,87.9 529.1,89.1 530.1,89.6 531.4,89.9 534.7,90.2 538.7,86.4 539.1,86.4 541.7,87.8 545.4,88.9 549.8,89.6 555.1,90.1 569.5,90.4 608.5,90.5"/><polyline points="447.3,92.5 509.0,92.5 518.7,92.3 520.1,90.6 520.7,88.9 521.4,86.1 522.7,78.5 523.1,77.4 523.4,77.2 524.1,80.0 525.1,86.2 526.1,89.8 527.1,91.1 528.1,91.6 529.4,91.9 532.7,92.2 536.7,88.4 537.1,88.4 539.7,89.8 543.4,90.9 547.8,91.6 553.1,92.1 567.5,92.4 606.5,92.5"/><polyline points="445.3,94.5 507.0,94.5 516.7,94.3 518.1,92.6 518.7,90.8 519.4,87.9 520.7,79.9 521.1,78.8 521.4,78.6 521.7,79.7 523.1,88.0 523.7,90.8 524.7,92.8 525.7,93.4 527.1,93.8 530.7,94.2 534.7,90.4 535.1,90.4 537.7,91.8 541.4,92.9 545.8,93.6 551.1,94.1 565.5,94.4 604.5,94.5"/><polyline points="443.3,96.5 505.0,96.5 514.7,96.3 516.1,94.5 516.7,92.7 517.4,89.6 518.7,81.2 519.1,80.1 519.4,79.9 520.1,82.9 521.4,91.4 522.1,93.7 523.1,95.0 525.1,95.8 528.7,96.2 532.7,92.4 533.1,92.4 535.7,93.8 539.4,94.9 543.8,95.6 549.1,96.1 563.5,96.4 602.5,96.5"/><polyline points="441.3,98.5 503.0,98.5 512.7,98.3 514.1,96.4 514.7,94.5 515.4,91.3 516.7,82.5 517.1,81.3 517.4,81.2 518.1,84.3 519.4,93.2 520.1,95.6 521.1,97.0 523.1,97.8 526.7,98.2 530.7,94.4 531.1,94.3 533.7,95.7 537.4,96.9 541.8,97.6 547.1,98.1 561.5,98.4 600.5,98.5"/><polyline points="439.3,100.5 501.0,100.5 510.7,100.3 511.4,99.5 512.1,98.4 512.7,96.4 514.7,83.8 515.1,82.6 515.4,82.5 516.1,85.7 517.4,95.0 518.1,97.5 519.1,99.0 519.7,99.4 521.1,99.8 524.7,100.2 528.7,96.3 529.1,96.3 531.7,97.7 535.4,98.9 539.8,99.6 545.1,100.1 559.5,100.4 598.5,100.5"/><polyline points="437.3,102.5 499.0,102.5 508.7,102.3 509.4,101.5 510.1,100.3 510.7,98.2 512.7,85.1 513.1,83.9 513.4,83.7 514.1,87.1 515.4,96.8 516.1,99.4 517.1,101.0 517.7,101.4 519.1,101.8 522.7,102.2 526.7,98.3 527.1,98.3 529.7,99.7 533.4,100.8 537.8,101.6 543.1,102.1 557.5,102.4 596.5,102.5"/><polyline points="435.3,104.5 497.0,104.5 506.7,104.2 507.4,103.5 508.1,102.2 508.7,100.1 510.7,86.4 511.1,85.1 511.4,85.0 512.1,88.5 513.4,98.6 514.1,101.3 515.1,102.9 515.7,103.4 517.1,103.8 520.7,104.2 524.7,100.3 525.1,100.3 527.7,101.7 531.4,102.8 535.8,103.6 541.1,104.1 555.5,104.4 594.5,104.5"/><polyline points="433.3,106.5 495.0,106.5 504.7,106.2 505.4,105.5 506.1,104.2 506.7,101.9 508.7,87.7 509.1,86.4 509.4,86.2 509.7,87.6 511.1,98.2 511.7,102.0 512.1,103.2 512.7,104.5 513.4,105.2 514.7,105.7 516.7,106.0 518.7,106.1 522.7,102.3 523.1,102.3 525.7,103.7 529.4,104.8 533.8,105.6 539.1,106.1 553.5,106.4 592.5,106.5"/><polyline points="431.3,108.5 493.0,108.5 502.7,108.2 503.7,106.8 504.7,103.7 506.7,89.0 507.1,87.6 507.4,87.5 507.7,88.9 509.1,99.9 509.7,103.8 510.1,105.1 510.7,106.5 511.4,107.1 512.7,107.7 515.1,108.1 516.7,108.1 520.7,104.3 521.1,104.2 523.7,105.7 527.4,106.8 531.8,107.6 537.1,108.1 551.5,108.4 590.5,108.5"/><polyline points="429.3,110.5 491.0,110.5 500.7,110.2 501.7,108.8 502.7,105.5 504.7,90.3 505.1,88.9 505.4,88.8 505.7,90.2 507.1,101.5 507.7,105.7 508.1,106.9 508.7,108.4 509.4,109.1 510.7,109.7 513.1,110.1 514.7,110.1 518.7,106.2 519.1,106.2 521.7,107.7 525.4,108.8 529.8,109.6 535.1,110.1 549.5,110.4 588.5,110.5"/><polyline points="427.3,112.5 489.0,112.5 496.1,112.4 498.7,112.2 499.7,110.7 500.7,107.4 502.7,91.6 503.1,90.2 503.4,90.0 503.7,91.5 505.1,103.2 505.7,107.5 506.1,108.8 506.7,110.4 507.4,111.1 508.7,111.7 511.1,112.1 512.7,112.1 516.7,108.2 517.1,108.2 519.7,109.6 523.4,110.8 527.8,111.6 533.1,112.1 547.5,112.4 586.5,112.5"/><polyline points="425.3,113.5 487.0,113.5 494.1,113.4 496.7,113.2 497.7,111.7 498.7,108.2 500.7,91.9 501.1,90.4 501.4,90.3 502.1,94.4 503.4,106.4 504.1,109.7 504.4,110.7 505.1,111.8 505.7,112.3 506.7,112.7 509.4,113.1 510.7,113.0 514.7,109.2 515.1,109.2 517.7,110.6 521.4,111.8 525.8,112.6 531.1,113.1 545.5,113.4 584.5,113.5"/><polyline points="423.3,115.5 485.4,115.5 492.1,115.4 494.7,115.2 495.7,113.7 496.7,110.1 498.7,93.7 499.1,92.2 499.4,92.1 500.1,96.3 501.4,108.3 502.1,111.7 502.4,112.7 503.1,113.8 503.7,114.3 504.7,114.7 508.4,115.2 512.7,111.2 513.1,111.2 515.7,112.6 519.4,113.8 523.8,114.6 529.1,115.1 543.5,115.4 582.5,115.5"/><polyline points="421.3,117.5 483.4,117.5 490.1,117.4 492.7,117.2 493.7,115.7 494.7,112.1 496.7,95.6 497.1,94.1 497.4,94.0 498.1,98.2 499.4,110.3 500.1,113.7 500.4,114.7 501.1,115.8 501.7,116.3 502.7,116.7 506.4,117.2 510.7,113.2 511.1,113.2 513.7,114.6 517.4,115.8 521.8,116.6 527.1,117.1 541.5,117.4 580.5,117.5"/><polyline points="419.3,119.5 481.4,119.5 488.1,119.4 490.7,119.2 491.7,117.7 492.7,114.1 494.7,97.6 495.1,96.0 495.4,95.9 496.1,100.1 497.4,112.3 498.1,115.7 498.4,116.7 499.1,117.8 499.7,118.3 500.7,118.7 504.4,119.2 508.7,115.1 509.1,115.1 511.7,116.6 515.4,117.8 519.8,118.6 525.1,119.1 539.5,119.4 578.5,119.5"/><polyline points="417.3,121.5 479.4,121.5 486.1,121.4 488.7,121.1 489.7,119.7 490.7,116.1 492.7,99.5 493.1,97.9 493.4,97.8 494.1,102.0 495.4,114.2 496.1,117.7 496.4,118.7 497.1,119.8 497.7,120.3 498.7,120.7 502.4,121.2 506.7,117.1 507.1,117.1 509.7,118.6 513.4,119.8 517.8,120.6 523.1,121.1 537.5,121.4 576.5,121.5"/><polyline points="415.3,123.5 477.4,123.5 484.1,123.4 486.7,123.1 487.7,121.6 488.7,117.9 490.7,100.7 491.1,99.1 491.4,99.0 492.1,103.3 493.4,115.9 494.1,119.5 494.4,120.6 495.1,121.7 495.7,122.3 496.7,122.7 500.4,123.2 504.7,119.1 505.1,119.1 507.7,120.6 511.4,121.8 515.8,122.6 521.1,123.1 535.5,123.4 574.5,123.5"/><polyline points="413.3,125.5 475.4,125.5 482.1,125.4 484.7,125.1 485.7,123.5 486.7,119.5 488.7,101.4 489.1,99.8 489.4,99.7 490.1,104.2 491.4,117.5 492.1,121.3 492.4,122.4 493.1,123.7 493.7,124.2 494.7,124.6 498.4,125.2 502.7,121.1 503.1,121.1 505.7,122.6 509.4,123.8 513.8,124.6 519.1,125.0 533.5,125.4 572.5,125.5"/><polyline points="411.3,127.5 473.4,127.5 480.1,127.3 482.7,127.1 483.7,125.4 484.7,121.2 486.7,102.1 487.1,100.5 487.4,100.4 488.1,105.1 489.1,116.0 489.7,121.3 490.1,123.1 490.7,125.1 491.4,126.0 492.4,126.5 494.1,126.9 496.4,127.2 500.7,123.1 501.1,123.1 503.7,124.6 507.4,125.8 511.8,126.6 517.1,127.0 531.5,127.4 570.5,127.5"/><polyline points="409.3,129.5 471.4,129.5 478.1,129.3 480.7,129.0 481.1,128.7 481.7,127.3 482.7,122.8 484.7,102.8 485.1,101.1 485.4,101.0 486.1,105.9 487.7,123.0 488.1,124.8 488.7,126.9 489.4,127.9 490.4,128.5 492.1,128.9 494.4,129.2 498.7,125.1 499.1,125.1 501.7,126.6 505.4,127.8 509.8,128.5 515.1,129.0 529.5,129.4 568.5,129.5"/><polyline points="407.3,131.5 469.4,131.4 476.1,131.3 478.7,131.0 479.1,130.6 479.7,129.2 480.4,126.5 481.1,121.6 482.7,103.4 483.1,101.6 483.4,101.5 484.1,106.6 485.4,121.9 486.1,126.5 486.4,127.9 487.1,129.4 487.7,130.1 488.4,130.5 490.1,130.9 492.4,131.1 496.7,127.1 497.1,127.1 499.7,128.6 503.4,129.7 507.8,130.5 513.1,131.0 527.5,131.4 566.5,131.5"/><polyline points="405.3,133.5 467.4,133.4 474.1,133.3 476.7,132.9 477.1,132.6 477.7,131.0 478.4,128.2 479.1,123.0 480.7,103.9 481.1,102.1 481.4,102.0 482.1,107.3 483.4,123.3 484.1,128.2 484.4,129.7 485.1,131.3 485.7,132.1 486.4,132.4 488.1,132.9 490.4,133.1 494.7,129.1 495.1,129.1 497.7,130.6 501.4,131.8 505.8,132.5 511.1,133.0 525.5,133.4 564.5,133.5"/><polyline points="403.3,135.5 465.7,135.4 472.4,135.3 474.7,134.9 475.1,134.5 475.7,132.9 476.4,129.8 477.1,124.4 478.7,104.5 479.1,102.6 479.4,102.5 480.1,108.0 481.4,124.7 482.1,129.9 482.4,131.5 483.1,133.2 483.7,134.0 484.4,134.4 486.1,134.9 488.4,135.1 492.7,131.1 493.1,131.1 495.7,132.6 499.4,133.8 503.8,134.6 509.1,135.0 523.5,135.4 562.5,135.5"/><polyline points="401.3,137.5 463.7,137.4 470.4,137.2 472.7,136.8 473.1,136.5 473.7,134.7 474.4,131.5 475.1,125.7 476.7,105.1 477.1,103.1 477.4,103.1 478.1,108.7 479.4,126.1 480.1,131.5 480.4,133.2 481.1,135.1 481.7,136.0 482.4,136.4 484.1,136.8 486.4,137.1 490.7,133.1 491.1,133.1 493.7,134.6 497.4,135.8 501.8,136.6 507.1,137.0 521.5,137.4 560.5,137.5"/><polyline points="399.3,139.5 460.7,139.4 467.7,139.3 470.4,138.9 471.1,138.4 471.4,137.6 472.4,133.1 473.1,127.1 474.7,105.6 475.1,103.6 475.4,103.6 476.1,109.4 477.4,127.5 478.1,133.2 478.4,135.0 479.1,137.0 479.7,137.9 480.4,138.4 482.1,138.8 484.4,139.1 484.7,139.0 488.7,135.1 489.1,135.1 491.7,136.6 495.4,137.8 499.8,138.6 505.1,139.1 519.5,139.4 558.5,139.5"/><polyline points="397.3,141.5 458.7,141.4 465.7,141.3 468.4,140.9 469.1,140.3 469.4,139.5 470.4,134.7 471.1,128.2 472.7,105.9 473.1,103.8 473.4,103.8 474.1,109.8 475.4,128.7 476.1,134.8 476.4,136.7 477.1,138.9 477.7,139.9 478.4,140.3 480.4,140.9 482.4,141.1 482.7,141.0 486.7,137.2 487.1,137.2 489.7,138.6 493.4,139.8 497.8,140.6 503.1,141.1 517.5,141.4 556.5,141.5"/><polyline points="395.3,143.5 456.7,143.4 463.7,143.2 465.4,143.0 466.4,142.7 467.1,142.1 467.4,141.2 468.4,135.7 469.1,128.5 470.7,104.5 471.1,102.3 471.4,102.2 472.1,108.6 473.4,129.0 474.1,135.8 474.4,138.0 475.1,140.6 475.7,141.7 476.4,142.2 478.4,142.8 480.7,143.0 484.7,139.2 485.1,139.2 487.7,140.6 491.4,141.8 495.8,142.6 501.1,143.1 515.8,143.4 554.5,143.5"/><polyline points="393.3,145.5 455.0,145.4 461.7,145.2 463.4,145.0 464.4,144.6 465.1,143.9 465.4,142.8 466.4,136.6 468.7,102.9 469.1,100.7 469.4,100.6 470.1,107.3 471.4,129.2 472.1,136.8 473.1,142.2 473.7,143.5 474.4,144.1 476.1,144.7 478.7,145.0 482.7,141.2 483.1,141.2 485.7,142.6 489.4,143.8 493.8,144.6 499.1,145.1 513.8,145.4 552.5,145.5"/><polyline points="391.3,147.5 452.0,147.4 459.1,147.2 461.1,147.0 462.1,146.6 462.7,146.0 463.1,145.5 464.1,140.2 465.1,128.3 466.7,100.6 467.1,98.2 467.4,98.2 468.1,105.2 469.4,128.9 470.1,137.4 471.1,143.7 471.7,145.3 472.7,146.2 474.4,146.7 476.7,147.0 480.7,143.2 481.1,143.2 483.7,144.7 487.4,145.8 491.8,146.6 497.1,147.1 511.8,147.4 550.5,147.5"/><polyline points="389.3,149.5 450.0,149.4 457.1,149.2 459.1,148.9 460.1,148.5 460.7,147.9 461.1,147.2 462.1,141.6 463.1,128.5 464.7,98.3 465.1,95.7 465.4,95.7 466.1,103.4 467.4,129.2 468.1,138.4 469.1,145.4 469.7,147.1 470.7,148.1 472.4,148.7 474.7,149.0 478.7,145.3 479.1,145.3 481.7,146.7 485.4,147.8 489.8,148.6 495.1,149.1 509.8,149.4 548.5,149.5"/><polyline points="387.3,151.5 448.0,151.4 455.1,151.1 457.1,150.8 458.1,150.5 458.7,149.7 459.4,147.7 460.4,139.4 462.4,101.6 463.1,93.8 463.4,93.8 463.7,96.8 465.4,129.8 466.4,143.0 466.7,145.4 467.4,148.3 468.1,149.5 468.7,150.1 470.4,150.7 472.7,151.0 476.7,147.3 477.1,147.3 479.7,148.7 483.4,149.8 487.8,150.6 493.1,151.1 507.8,151.4 546.5,151.5"/><polyline points="385.3,153.5 446.0,153.4 453.1,153.1 455.1,152.8 456.1,152.4 456.7,151.6 457.4,149.6 458.4,140.8 460.4,100.9 461.1,92.8 461.4,92.8 461.7,96.0 463.4,130.7 464.1,141.1 465.1,149.0 465.7,150.9 466.4,151.8 468.1,152.6 470.7,153.0 474.7,149.4 475.1,149.3 477.7,150.7 481.4,151.9 485.8,152.6 491.1,153.1 505.8,153.4 544.5,153.5"/><polyline points="383.3,155.5 444.0,155.4 451.1,155.1 453.1,154.8 454.1,154.4 454.7,153.6 455.4,151.5 456.4,142.6 458.4,101.5 459.1,93.1 459.4,93.2 459.7,96.4 461.4,132.1 462.1,142.8 463.1,150.9 463.7,152.9 464.4,153.8 466.1,154.5 468.7,155.0 469.1,154.9 472.7,151.4 473.1,151.4 475.7,152.8 479.4,153.9 483.8,154.6 489.1,155.1 503.8,155.4 542.5,155.5"/><polyline points="381.3,157.5 442.0,157.4 449.1,157.1 451.1,156.8 452.1,156.3 452.7,155.5 453.4,153.5 454.4,144.3 456.4,102.1 457.1,93.5 457.4,93.5 457.7,96.8 459.4,133.5 460.1,144.5 461.1,152.8 461.7,154.8 462.4,155.7 464.1,156.5 467.1,156.9 470.7,153.5 471.1,153.5 473.7,154.8 477.4,155.9 481.8,156.6 487.1,157.1 501.8,157.4 540.5,157.5"/><polyline points="379.3,159.5 440.0,159.4 447.1,159.1 449.1,158.8 450.1,158.3 450.7,157.5 451.4,155.4 452.4,146.1 454.4,103.0 455.1,94.2 455.4,94.3 455.7,97.7 457.4,135.0 458.1,146.3 459.1,154.7 459.7,156.8 460.4,157.7 462.1,158.5 465.1,159.0 468.7,155.5 469.1,155.5 471.7,156.9 475.4,157.9 479.8,158.6 485.1,159.1 499.8,159.4 538.5,159.5"/><polyline points="377.3,161.5 438.0,161.4 445.1,161.1 447.1,160.8 448.1,160.3 448.7,159.5 449.4,157.4 450.4,148.2 452.4,105.1 453.1,96.3 453.4,96.3 453.7,99.7 455.4,137.1 456.1,148.3 457.1,156.7 457.7,158.8 458.4,159.7 460.1,160.5 463.1,161.0 466.7,157.6 467.1,157.6 469.7,158.9 473.4,160.0 477.8,160.7 483.1,161.1 497.8,161.4 536.5,161.5"/><polyline points="375.3,163.5 436.0,163.4 443.1,163.1 445.1,162.8 446.1,162.3 446.7,161.5 447.4,159.5 448.4,150.4 450.4,107.7 451.1,99.0 451.4,99.0 451.7,102.4 453.4,139.3 454.1,150.5 455.1,158.8 455.7,160.9 456.4,161.8 458.1,162.6 461.1,163.0 464.7,159.7 465.1,159.7 467.7,161.0 471.4,162.0 475.8,162.7 481.1,163.1 495.8,163.4 534.5,163.5"/><polyline points="373.3,165.5 434.0,165.4 441.1,165.1 443.1,164.8 444.1,164.4 444.7,163.6 445.4,161.7 445.7,159.9 446.4,153.1 448.4,112.5 449.1,104.2 449.4,104.3 449.7,107.4 451.4,142.5 452.1,153.1 453.1,161.0 453.7,163.0 454.4,163.8 455.1,164.3 456.4,164.7 459.4,165.0 462.7,161.8 463.1,161.8 465.7,163.0 469.4,164.0 473.8,164.7 479.1,165.1 493.8,165.4 532.5,165.5"/><polyline points="371.3,167.5 432.0,167.4 439.1,167.1 441.1,166.8 442.1,166.4 442.7,165.7 443.4,163.9 444.1,159.6 444.4,155.9 446.4,117.4 447.1,109.5 447.4,109.5 447.7,112.6 449.4,145.7 450.1,155.8 451.1,163.2 451.7,165.1 452.4,165.9 454.1,166.6 457.4,167.1 460.7,163.9 461.1,163.9 463.7,165.1 467.4,166.1 471.8,166.7 477.1,167.1 491.8,167.4 530.5,167.5"/><polyline points="369.3,169.5 430.0,169.4 437.1,169.1 439.1,168.9 440.1,168.5 440.7,167.8 441.4,166.1 442.1,162.2 443.1,148.7 444.7,117.6 445.1,115.0 445.4,115.0 446.1,122.8 447.4,149.0 448.1,158.4 449.1,165.5 449.7,167.2 450.4,168.0 452.1,168.7 455.4,169.1 458.7,166.1 459.1,166.0 461.7,167.2 465.4,168.1 469.8,168.7 475.1,169.1 489.8,169.4 528.5,169.5"/><polyline points="367.3,171.5 428.0,171.4 435.1,171.2 437.1,170.9 438.1,170.6 438.7,170.0 439.4,168.5 440.1,165.1 441.1,152.9 442.7,124.6 443.1,122.2 443.4,122.1 444.1,129.2 445.4,153.0 446.1,161.5 447.1,167.9 447.7,169.4 448.4,170.1 450.4,170.8 453.7,171.1 456.7,168.2 457.1,168.2 459.7,169.3 463.4,170.2 467.8,170.8 473.1,171.2 487.8,171.4 526.5,171.5"/><polyline points="365.3,173.5 427.0,173.4 433.7,173.2 435.4,173.0 436.4,172.6 437.1,171.9 437.7,170.1 438.4,165.9 439.1,158.0 440.7,132.1 441.1,129.8 441.4,129.7 442.1,136.4 443.4,158.0 444.1,165.3 444.4,167.7 445.1,170.6 445.7,171.8 446.4,172.3 448.4,172.9 451.7,173.2 454.7,170.4 455.1,170.4 457.7,171.4 461.4,172.3 465.8,172.8 471.1,173.2 485.8,173.4 524.5,173.5"/><polyline points="363.3,175.5 424.7,175.4 431.7,175.2 434.4,174.8 435.1,174.3 435.7,173.0 436.4,169.8 437.1,163.2 438.7,140.1 439.1,137.9 439.4,137.9 440.1,143.9 441.4,163.0 442.1,169.1 442.4,171.0 443.1,173.2 443.7,174.1 444.4,174.5 446.4,175.0 449.7,175.2 450.1,175.2 452.7,172.6 453.1,172.5 455.7,173.5 459.4,174.3 463.8,174.9 469.1,175.2 483.8,175.5 522.5,175.5"/><polyline points="361.3,177.5 423.4,177.4 430.1,177.3 432.7,177.0 433.4,176.5 434.1,175.2 434.7,172.0 436.7,150.4 437.1,148.5 437.4,148.4 438.1,153.5 439.7,171.2 440.1,173.1 440.7,175.3 441.4,176.2 442.1,176.6 444.4,177.1 448.1,177.3 450.7,174.8 451.1,174.7 453.7,175.7 457.4,176.4 461.8,176.9 467.1,177.2 481.5,177.5 520.5,177.5"/><polyline points="359.3,179.5 421.4,179.5 428.1,179.4 430.7,179.1 431.4,178.8 432.1,177.9 432.7,175.7 433.4,170.9 434.7,158.1 435.1,156.5 435.4,156.3 435.7,157.9 437.1,170.4 437.7,174.9 438.1,176.3 438.7,177.9 439.4,178.5 440.1,178.8 442.4,179.2 446.1,179.3 446.4,179.3 448.7,177.0 449.1,177.0 451.7,177.8 455.4,178.5 459.8,179.0 465.1,179.2 479.5,179.5 518.5,179.5"/><polyline points="357.3,181.5 420.0,181.5 426.7,181.4 429.1,181.2 430.1,180.5 430.7,178.9 431.4,175.6 432.7,165.3 433.1,163.9 433.4,163.8 433.7,165.1 435.1,174.8 435.7,178.2 436.1,179.2 436.7,180.3 438.1,180.9 440.4,181.2 444.4,181.4 446.7,179.2 447.1,179.2 449.7,180.0 453.4,180.6 463.1,181.3 477.5,181.5 516.5,181.5"/><polyline points="355.3,183.5 418.0,183.5 427.1,183.3 427.7,183.1 428.4,182.5 429.1,181.1 430.7,172.2 431.1,171.1 431.4,171.0 432.1,173.5 433.1,179.0 433.7,181.3 434.1,181.9 434.7,182.6 436.1,183.1 442.7,183.4 444.7,181.5 445.1,181.4 447.7,182.1 451.4,182.7 461.1,183.3 475.5,183.5 514.5,183.5"/><polyline points="353.3,185.5 425.4,185.4 426.4,185.0 427.1,184.2 427.7,182.7 428.7,178.9 429.1,178.1 429.4,178.0 429.7,178.5 431.1,182.8 431.7,184.1 432.7,184.9 434.4,185.2 441.1,185.4 442.7,183.7 443.1,183.7 445.7,184.3 449.4,184.8 459.1,185.3 512.5,185.5"/><polyline points="351.3,187.5 423.4,187.4 424.4,187.2 425.1,186.8 426.1,185.2 427.1,183.0 427.4,182.8 429.1,185.9 429.7,186.7 430.7,187.1 432.7,187.3 439.1,187.5 439.4,187.4 440.7,186.1 441.1,186.0 443.7,186.5 447.4,186.9 457.1,187.4 510.5,187.5"/><polyline points="349.3,189.5 421.4,189.5 423.1,189.2 425.4,187.2 427.1,188.7 427.7,189.1 430.7,189.4 437.4,189.5 437.7,189.4 438.7,188.4 439.1,188.3 445.4,189.0 455.1,189.4 508.5,189.5"/><polyline points="347.3,191.5 435.7,191.5 436.1,191.4 436.7,190.8 437.1,190.7 443.4,191.2 453.1,191.4 506.5,191.5"/></g><line x1="347.3" y1="195.5" x2="506.3" y2="195.5" stroke="#d0d0d0" stroke-width="1.4"/><line x1="347.3" y1="195.9" x2="347.3" y2="197.6" stroke="#888" stroke-width="0.6"/><line x1="355.2" y1="195.9" x2="355.2" y2="197.6" stroke="#888" stroke-width="0.6"/><line x1="363.1" y1="195.9" x2="363.1" y2="197.6" stroke="#888" stroke-width="0.6"/><line x1="371" y1="195.9" x2="371" y2="197.6" stroke="#888" stroke-width="0.6"/><line x1="378.9" y1="195.9" x2="378.9" y2="197.6" stroke="#888" stroke-width="0.6"/><line x1="386.8" y1="195.9" x2="386.8" y2="197.6" stroke="#888" stroke-width="0.6"/><line x1="394.7" y1="195.9" x2="394.7" y2="197.6" stroke="#888" stroke-width="0.6"/><line x1="402.6" y1="195.9" x2="402.6" y2="197.6" stroke="#888" stroke-width="0.6"/><line x1="410.5" y1="195.9" x2="410.5" y2="197.6" stroke="#888" stroke-width="0.6"/><line x1="418.4" y1="195.9" x2="418.4" y2="197.6" stroke="#888" stroke-width="0.6"/><line x1="426.3" y1="195.9" x2="426.3" y2="197.6" stroke="#888" stroke-width="0.6"/><line x1="434.2" y1="195.9" x2="434.2" y2="197.6" stroke="#888" stroke-width="0.6"/><line x1="442.1" y1="195.9" x2="442.1" y2="197.6" stroke="#888" stroke-width="0.6"/><line x1="450" y1="195.9" x2="450" y2="197.6" stroke="#888" stroke-width="0.6"/><line x1="457.9" y1="195.9" x2="457.9" y2="197.6" stroke="#888" stroke-width="0.6"/><line x1="465.8" y1="195.9" x2="465.8" y2="197.6" stroke="#888" stroke-width="0.6"/><line x1="473.7" y1="195.9" x2="473.7" y2="197.6" stroke="#888" stroke-width="0.6"/><line x1="481.6" y1="195.9" x2="481.6" y2="197.6" stroke="#888" stroke-width="0.6"/><line x1="489.5" y1="195.9" x2="489.5" y2="197.6" stroke="#888" stroke-width="0.6"/><line x1="497.4" y1="195.9" x2="497.4" y2="197.6" stroke="#888" stroke-width="0.6"/><line x1="505.3" y1="195.9" x2="505.3" y2="197.6" stroke="#888" stroke-width="0.6"/><text x="347.3" y="208.2" text-anchor="middle" font-size="10" fill="#111">188</text><text x="378.9" y="208.2" text-anchor="middle" font-size="10" fill="#111">184</text><text x="410.5" y="208.2" text-anchor="middle" font-size="10" fill="#111">180</text><text x="442.1" y="208.2" text-anchor="middle" font-size="10" fill="#111">176</text><text x="473.7" y="208.2" text-anchor="middle" font-size="10" fill="#111">172</text><text x="505.3" y="208.2" text-anchor="middle" font-size="10" fill="#111">168</text><line x1="509.9" y1="191.7" x2="669" y2="32.6" stroke="#c8c8c8" stroke-width="1.3"/><text x="513.2" y="197" font-size="11" fill="#111">0</text><text x="534.5" y="175.7" font-size="11" fill="#111">10</text><text x="555.8" y="154.4" font-size="11" fill="#111">20</text><text x="577.1" y="133.1" font-size="11" fill="#111">30</text><text x="598.4" y="111.8" font-size="11" fill="#111">40</text><text x="619.7" y="90.5" font-size="11" fill="#111">50</text><text x="641" y="69.2" font-size="11" fill="#111">60</text><text x="339.2" y="223.4" font-size="14.9" fill="#111"><tspan font-size="9.6" dy="-4.9">13</tspan><tspan dy="4.9">C Chemical Shift (ppm)</tspan></text><text transform="translate(560,183) rotate(-45)" font-size="14.9" fill="#111">Time (seconds)</text><text x="338.7" y="22.2" font-size="21.5" fill="#111">(B)</text><text x="421" y="72.7" font-size="12.8" fill="#111">[1-<tspan font-size="8.3" dy="-4.5">13</tspan><tspan dy="4.5">C] NAC-GSH</tspan></text><text x="536.3" y="95.2" font-size="12.8" fill="#111">[1-<tspan font-size="8.3" dy="-4.5">13</tspan><tspan dy="4.5">C] NAC</tspan></text><line x1="489.7" y1="76" x2="482.78" y2="95.95" stroke="#4a7fd4" stroke-width="0.8"/><polygon points="481.3,100.2 481.08,95.36 484.48,96.54" fill="#4a7fd4"/><line x1="553.1" y1="103.8" x2="517.65" y2="121.03" stroke="#4a7fd4" stroke-width="0.8"/><polygon points="513.6,123 516.86,119.41 518.43,122.65" fill="#4a7fd4"/><rect x="10" y="45" width="58" height="74" fill="#000"/><defs><radialGradient id="ra" cx="0.35" cy="0.35" r="0.75"><stop offset="0" stop-color="#f0f0f0"/><stop offset="0.55" stop-color="#d8d8d8"/><stop offset="1" stop-color="#a0a0a0"/></radialGradient><linearGradient id="na" x1="0" y1="0" x2="0" y2="1"><stop offset="0" stop-color="#9a9a9a"/><stop offset="1" stop-color="#111"/></linearGradient></defs><path d="M32,91 L46,90 L50,99 L53,106 L50,109 L42,105 L36,100 Z" fill="url(#na)" filter="url(#bl1)"/><g filter="url(#bl06)"><path d="M36.3,65.3 C30,66 26.3,71 26.5,77 C26.5,84 28.5,88.5 32.2,91.5 C35,94 38,95.3 40.4,95.1 C45,95 48,93.5 49.9,91.5 C52.5,88.5 53.5,85 53.2,81 C53,76 51.5,72 48.5,69 C45.5,66.2 40.5,64.8 36.3,65.3 Z" fill="url(#ra)"/><path d="M33,88 Q39,96 46,91 Q41,95 35,92 Z" fill="#666" opacity="0.6"/><path d="M41.5,69.5 L43,69.5 L42.6,74 Z" fill="#333"/></g><line x1="23.3" y1="45" x2="23.3" y2="119" stroke="#6a1010" stroke-width="0.9"/><line x1="55.3" y1="45" x2="55.3" y2="119" stroke="#6a1010" stroke-width="0.9"/><text x="39.1" y="60" text-anchor="middle" font-size="13" fill="#e6e6e6">Hs766t</text><rect x="346" y="45" width="57" height="74" fill="#000"/><defs><radialGradient id="rb" cx="0.4" cy="0.35" r="0.7"><stop offset="0" stop-color="#dcdcdc"/><stop offset="0.6" stop-color="#c2c2c2"/><stop offset="1" stop-color="#7a7a7a"/></radialGradient></defs><path d="M383,90 L388,98 L390,106 L386,108 L380,102 Z" fill="#777" filter="url(#bl1)"/><g filter="url(#bl06)"><ellipse cx="375.3" cy="83" rx="11.3" ry="20" transform="rotate(-10 375.3 83)" fill="url(#rb)"/><path d="M367,85 Q372,88 376,87 Q378,84 380,86" stroke="#555" stroke-width="0.8" fill="none"/><path d="M380,88 Q383,96 386,103" stroke="#666" stroke-width="1" fill="none"/></g><line x1="352.8" y1="45" x2="352.8" y2="119" stroke="#6a1010" stroke-width="0.9"/><line x1="397.1" y1="45" x2="397.1" y2="119" stroke="#6a1010" stroke-width="0.9"/><text x="374.7" y="60" text-anchor="middle" font-size="13" fill="#e6e6e6">SU.86.86</text><rect x="53.5" y="236.4" width="257.0" height="202.79999999999998" fill="none" stroke="#777" stroke-width="1"/><line x1="50.5" y1="412.7" x2="53.5" y2="412.7" stroke="#555" stroke-width="0.9"/><text x="45" y="417.7" text-anchor="end" font-size="14.5" fill="#111">0</text><line x1="50.5" y1="362.3" x2="53.5" y2="362.3" stroke="#555" stroke-width="0.9"/><text x="45" y="367.3" text-anchor="end" font-size="14.5" fill="#111">2</text><line x1="50.5" y1="311.9" x2="53.5" y2="311.9" stroke="#555" stroke-width="0.9"/><text x="45" y="316.9" text-anchor="end" font-size="14.5" fill="#111">4</text><line x1="50.5" y1="261.5" x2="53.5" y2="261.5" stroke="#555" stroke-width="0.9"/><text x="45" y="266.5" text-anchor="end" font-size="14.5" fill="#111">6</text><line x1="53.5" y1="439.2" x2="53.5" y2="442.2" stroke="#555" stroke-width="0.9"/><text x="52.8" y="458" text-anchor="middle" font-size="14.5" fill="#111">2</text><line x1="93.04" y1="439.2" x2="93.04" y2="442.2" stroke="#555" stroke-width="0.9"/><text x="92.34" y="458" text-anchor="middle" font-size="14.5" fill="#111">4</text><line x1="132.58" y1="439.2" x2="132.58" y2="442.2" stroke="#555" stroke-width="0.9"/><text x="131.88" y="458" text-anchor="middle" font-size="14.5" fill="#111">6</text><line x1="172.12" y1="439.2" x2="172.12" y2="442.2" stroke="#555" stroke-width="0.9"/><text x="171.42" y="458" text-anchor="middle" font-size="14.5" fill="#111">8</text><line x1="211.66" y1="439.2" x2="211.66" y2="442.2" stroke="#555" stroke-width="0.9"/><text x="210.96" y="458" text-anchor="middle" font-size="14.5" fill="#111">10</text><line x1="251.2" y1="439.2" x2="251.2" y2="442.2" stroke="#555" stroke-width="0.9"/><text x="250.5" y="458" text-anchor="middle" font-size="14.5" fill="#111">12</text><line x1="290.74" y1="439.2" x2="290.74" y2="442.2" stroke="#555" stroke-width="0.9"/><text x="290.04" y="458" text-anchor="middle" font-size="14.5" fill="#111">14</text><polyline points="53.5,412.2 73.27,413.71 93.04,410.18 112.81,401.11 132.58,392.54 152.35,387 172.12,376.16 191.89,368.6 211.66,364.32 231.43,362.3 251.2,361.04 270.97,361.54 290.74,360.54 310.51,360.54" fill="none" stroke="#555" stroke-width="0.8" stroke-dasharray="0.9 1.5"/><polyline points="53.5,416.73 73.27,410.94 93.04,410.18 112.81,401.11 132.58,376.16 152.35,347.68 172.12,337.1 191.89,324.5 211.66,304.34 231.43,306.86 251.2,287.96 270.97,274.1 290.74,280.4 310.51,271.58" fill="none" stroke="#111" stroke-width="0.8"/><ellipse cx="53.5" cy="416.73" rx="2.5" ry="2.8" fill="#000"/><ellipse cx="73.27" cy="410.94" rx="2.5" ry="2.8" fill="#000"/><ellipse cx="93.04" cy="410.18" rx="2.5" ry="2.8" fill="#000"/><ellipse cx="112.81" cy="401.11" rx="2.5" ry="2.8" fill="#000"/><ellipse cx="132.58" cy="376.16" rx="2.5" ry="2.8" fill="#000"/><ellipse cx="152.35" cy="347.68" rx="2.5" ry="2.8" fill="#000"/><ellipse cx="172.12" cy="337.1" rx="2.5" ry="2.8" fill="#000"/><ellipse cx="191.89" cy="324.5" rx="2.5" ry="2.8" fill="#000"/><ellipse cx="211.66" cy="304.34" rx="2.5" ry="2.8" fill="#000"/><ellipse cx="231.43" cy="306.86" rx="2.5" ry="2.8" fill="#000"/><ellipse cx="251.2" cy="287.96" rx="2.5" ry="2.8" fill="#000"/><ellipse cx="270.97" cy="274.1" rx="2.5" ry="2.8" fill="#000"/><ellipse cx="290.74" cy="280.4" rx="2.5" ry="2.8" fill="#000"/><ellipse cx="310.51" cy="271.58" rx="2.5" ry="2.8" fill="#000"/><ellipse cx="53.5" cy="412.2" rx="2.3" ry="2.6" fill="#fff" stroke="#111" stroke-width="0.8"/><ellipse cx="73.27" cy="413.71" rx="2.3" ry="2.6" fill="#fff" stroke="#111" stroke-width="0.8"/><ellipse cx="93.04" cy="410.18" rx="2.3" ry="2.6" fill="#fff" stroke="#111" stroke-width="0.8"/><ellipse cx="112.81" cy="401.11" rx="2.3" ry="2.6" fill="#fff" stroke="#111" stroke-width="0.8"/><ellipse cx="132.58" cy="392.54" rx="2.3" ry="2.6" fill="#fff" stroke="#111" stroke-width="0.8"/><ellipse cx="152.35" cy="387" rx="2.3" ry="2.6" fill="#fff" stroke="#111" stroke-width="0.8"/><ellipse cx="172.12" cy="376.16" rx="2.3" ry="2.6" fill="#fff" stroke="#111" stroke-width="0.8"/><ellipse cx="191.89" cy="368.6" rx="2.3" ry="2.6" fill="#fff" stroke="#111" stroke-width="0.8"/><ellipse cx="211.66" cy="364.32" rx="2.3" ry="2.6" fill="#fff" stroke="#111" stroke-width="0.8"/><ellipse cx="231.43" cy="362.3" rx="2.3" ry="2.6" fill="#fff" stroke="#111" stroke-width="0.8"/><ellipse cx="251.2" cy="361.04" rx="2.3" ry="2.6" fill="#fff" stroke="#111" stroke-width="0.8"/><ellipse cx="270.97" cy="361.54" rx="2.3" ry="2.6" fill="#fff" stroke="#111" stroke-width="0.8"/><ellipse cx="290.74" cy="360.54" rx="2.3" ry="2.6" fill="#fff" stroke="#111" stroke-width="0.8"/><ellipse cx="310.51" cy="360.54" rx="2.3" ry="2.6" fill="#fff" stroke="#111" stroke-width="0.8"/><text x="60" y="262" font-size="20.5" fill="#111">(C)</text><text x="193.7" y="284.5" font-size="14.8" fill="#111">Hs766t</text><text x="234.8" y="349.3" font-size="14.8" fill="#111">SU.86.86</text><text transform="translate(27.3,338) rotate(-90)" text-anchor="middle" font-size="14.8" fill="#111">NAC-GSH/NAC ratio</text><text x="39.6" y="475" font-size="14.6" fill="#111">Time after HP-NAC <tspan font-style="italic">i.v.</tspan> injections (seconds)</text><rect x="428.5" y="264.12" width="56.6" height="182.48" fill="#c0c0c0" stroke="#666" stroke-width="0.8"/><rect x="540.2" y="346.22" width="56.6" height="100.38" fill="#c0c0c0" stroke="#666" stroke-width="0.8"/><rect x="400.7" y="236.7" width="223.59999999999997" height="209.90000000000003" fill="none" stroke="#333" stroke-width="0.9"/><line x1="396.9" y1="446.6" x2="400.7" y2="446.6" stroke="#333" stroke-width="0.8"/><text x="388.8" y="452.6" text-anchor="end" font-size="15" fill="#111">0.0</text><line x1="398.7" y1="427.4" x2="400.7" y2="427.4" stroke="#333" stroke-width="0.8"/><line x1="396.9" y1="408.2" x2="400.7" y2="408.2" stroke="#333" stroke-width="0.8"/><text x="388.8" y="413.75" text-anchor="end" font-size="15" fill="#111">0.5</text><line x1="398.7" y1="389" x2="400.7" y2="389" stroke="#333" stroke-width="0.8"/><line x1="396.9" y1="369.8" x2="400.7" y2="369.8" stroke="#333" stroke-width="0.8"/><text x="388.8" y="374.9" text-anchor="end" font-size="15" fill="#111">1.0</text><line x1="398.7" y1="350.6" x2="400.7" y2="350.6" stroke="#333" stroke-width="0.8"/><line x1="396.9" y1="331.4" x2="400.7" y2="331.4" stroke="#333" stroke-width="0.8"/><text x="388.8" y="336.05" text-anchor="end" font-size="15" fill="#111">1.5</text><line x1="398.7" y1="312.2" x2="400.7" y2="312.2" stroke="#333" stroke-width="0.8"/><line x1="396.9" y1="293" x2="400.7" y2="293" stroke="#333" stroke-width="0.8"/><text x="388.8" y="297.2" text-anchor="end" font-size="15" fill="#111">2.0</text><line x1="398.7" y1="273.8" x2="400.7" y2="273.8" stroke="#333" stroke-width="0.8"/><line x1="396.9" y1="254.6" x2="400.7" y2="254.6" stroke="#333" stroke-width="0.8"/><text x="388.8" y="258.35" text-anchor="end" font-size="15" fill="#111">2.5</text><text x="403.3" y="257" font-size="21.3" fill="#111">(D)</text><text x="456.3" y="463.8" text-anchor="middle" font-size="14.8" fill="#111">Hs766t</text><text x="572.9" y="463.8" text-anchor="middle" font-size="14.8" fill="#111">SU.86.86</text><text transform="translate(358.6,350.2) rotate(-90)" text-anchor="middle" font-size="15.2" fill="#111">NAC-GSH/NAC ratio</text><rect x="21" y="487" width="185" height="184" fill="#000"/><rect x="56" y="510" width="116" height="160" fill="#090909"/><rect x="220" y="486" width="185" height="186" fill="#000"/><rect x="255" y="509" width="116" height="162" fill="#090909"/><rect x="433" y="486" width="187" height="186" fill="#000"/><rect x="468" y="509" width="116" height="162" fill="#090909"/><defs><clipPath id="c1"><path d="M123.4,521.6 L124.3,525 L125.2,533 L130,538.9 L134.8,543.7 L138.4,549.7 L141.4,556.9 L143.2,565 L145.6,575 L146,590 L145.6,606 L143,620 L138,628 L125,631 L110,631 L95,631 L84,629 L80.6,620 L80.5,600 L80.8,585 L81.2,572 L81.5,564.5 L84,559.5 L89,554.5 L96,550 L103.5,545.5 L109.7,540.1 L110.3,535.3 L110.9,529.4 L114.5,525.2 L119,522.5 Z"/></clipPath><clipPath id="c2"><path d="M321.4,520.6 L322.3,524 L323.2,532 L328,537.9 L332.8,542.7 L336.4,548.7 L339.4,555.9 L341.2,564 L343.6,574 L344,589 L343.6,605 L341,619 L336,627 L323,630 L308,630 L293,630 L282,628 L278.6,619 L278.5,599 L278.8,584 L279.2,571 L279.5,563.5 L282,558.5 L287,553.5 L294,549 L301.5,544.5 L307.7,539.1 L308.3,534.3 L308.9,528.4 L312.5,524.2 L317,521.5 Z"/></clipPath><clipPath id="c3"><path d="M533.92,521.6 L534.87,525 L535.81,533 L540.85,538.9 L545.89,543.7 L549.67,549.7 L552.82,556.9 L554.71,565 L557.23,575 L557.65,590 L557.23,606 L554.5,620 L549.25,628 L535.6,631 L519.85,631 L504.1,631 L492.55,629 L488.98,620 L488.88,600 L489.19,585 L489.61,572 L489.93,564.5 L492.55,559.5 L497.8,554.5 L505.15,550 L513.02,545.5 L519.53,540.1 L520.16,535.3 L520.79,529.4 L524.58,525.2 L529.3,522.5 Z"/></clipPath><linearGradient id="g1" x1="0" y1="521" x2="0" y2="628" gradientUnits="userSpaceOnUse"><stop offset="0" stop-color="#808080"/><stop offset="0.1" stop-color="#c0c0c0"/><stop offset="0.22" stop-color="#f6f6f6"/><stop offset="0.5" stop-color="#f2f2f2"/><stop offset="0.65" stop-color="#dadada"/><stop offset="0.76" stop-color="#b4b4b4"/><stop offset="0.85" stop-color="#888888"/><stop offset="0.92" stop-color="#484848"/><stop offset="1" stop-color="#080808"/></linearGradient><linearGradient id="g2" x1="0" y1="520" x2="0" y2="628" gradientUnits="userSpaceOnUse"><stop offset="0" stop-color="#b0a6a4"/><stop offset="0.4" stop-color="#ada19f"/><stop offset="0.68" stop-color="#a09292"/><stop offset="0.8" stop-color="#8c7474"/><stop offset="0.89" stop-color="#684040"/><stop offset="0.95" stop-color="#3e1e1e"/><stop offset="1" stop-color="#120606"/></linearGradient><linearGradient id="g3" x1="490" y1="0" x2="559" y2="0" gradientUnits="userSpaceOnUse"><stop offset="0" stop-color="#dedb44"/><stop offset="0.3" stop-color="#ecea68"/><stop offset="0.5" stop-color="#f2ec9a"/><stop offset="0.62" stop-color="#f0b0a0"/><stop offset="0.8" stop-color="#e46868"/><stop offset="1" stop-color="#bc4646"/></linearGradient><filter id="bl06" x="-10%" y="-10%" width="120%" height="120%"><feGaussianBlur stdDeviation="0.7"/></filter><filter id="bl3" x="-50%" y="-50%" width="200%" height="200%"><feGaussianBlur stdDeviation="3"/></filter></defs><filter id="bl09" x="-10%" y="-10%" width="120%" height="120%"><feGaussianBlur stdDeviation="0.9"/></filter><g filter="url(#bl09)"><g clip-path="url(#c1)"><rect x="78" y="518" width="72" height="116" fill="url(#g1)"/><ellipse cx="118" cy="531" rx="6" ry="8" fill="#555" opacity="0.75" filter="url(#bl3)"/><ellipse cx="98" cy="575" rx="16" ry="20" fill="#fff" opacity="0.8" filter="url(#bl3)"/><ellipse cx="86" cy="600" rx="4" ry="13" fill="#f0f0f0" opacity="0.7" filter="url(#bl3)"/><ellipse cx="141" cy="577" rx="3" ry="5" fill="#555" opacity="0.7" filter="url(#bl3)"/><ellipse cx="139" cy="589" rx="3" ry="4" fill="#555" opacity="0.7" filter="url(#bl3)"/><ellipse cx="120" cy="610" rx="18" ry="9" fill="#333" opacity="0.45" filter="url(#bl3)"/><ellipse cx="144" cy="615" rx="7" ry="9" fill="#111" opacity="0.5" filter="url(#bl3)"/><path d="M116.6,563 L116.3,585 L117,604" stroke="#555" stroke-width="1.1" fill="none"/><path d="M111,537 Q108,546 106,556" stroke="#fff" stroke-width="1.2" fill="none"/><path d="M112.6,538 Q110,546 108,556" stroke="#999" stroke-width="0.8" fill="none"/><path d="M95,606 Q106,612 113,605 M122,606 Q130,614 140,606" stroke="#666" stroke-width="0.8" fill="none"/></g></g><g filter="url(#bl06)"><g clip-path="url(#c2)"><rect x="276" y="517" width="72" height="112" fill="url(#g2)"/><ellipse cx="318" cy="616" rx="28" ry="7" fill="#5a1010" opacity="0.3" filter="url(#bl3)"/><ellipse cx="322" cy="543" rx="13" ry="6" fill="#ff4a4a" opacity="0.75" filter="url(#bl3)"/><ellipse cx="305" cy="548" rx="7" ry="4" fill="#ff5050" opacity="0.5" filter="url(#bl3)"/><ellipse cx="316.5" cy="531" rx="7" ry="10" fill="#e4e43c" opacity="0.95" filter="url(#bl1)"/><ellipse cx="318.5" cy="528" rx="3.5" ry="5" fill="#d4d4cc" opacity="0.95" filter="url(#bl1)"/><path d="M314.6,563 L314.3,585 L315,604" stroke="#5a4848" stroke-width="0.8" opacity="0.8" fill="none"/><ellipse cx="340" cy="580" rx="3" ry="6" fill="#5a4040" opacity="0.6" filter="url(#bl3)"/></g></g><g filter="url(#bl06)"><g clip-path="url(#c3)"><rect x="486" y="518" width="76" height="112" fill="url(#g3)"/><ellipse cx="500" cy="588" rx="9" ry="13" fill="#f0f0e8" opacity="0.9" filter="url(#bl3)"/><ellipse cx="512" cy="570" rx="14" ry="16" fill="#f4f070" opacity="0.6" filter="url(#bl3)"/><ellipse cx="533" cy="545" rx="14" ry="10" fill="#f0b0b0" opacity="0.7" filter="url(#bl3)"/><ellipse cx="527" cy="530" rx="6" ry="9" fill="#7a2020" opacity="0.95" filter="url(#bl3)"/><ellipse cx="550" cy="592" rx="4" ry="8" fill="#9a3030" opacity="0.6" filter="url(#bl3)"/><ellipse cx="496" cy="615" rx="8" ry="8" fill="#e8a040" opacity="0.6" filter="url(#bl3)"/><path d="M526.6,563 L526.3,585 L527,604" stroke="#9a6a4a" stroke-width="0.8" opacity="0.6" fill="none"/><path d="M486,624 L492,624 L492,622 L497,622 L497,625 L503,625 L503,621 L508,621 L508,623 L515,623 L515,621 L521,621 L521,624 L527,624 L527,620 L533,620 L533,622 L540,622 L540,620 L546,620 L546,623 L552,623 L552,621 L562,621 L562,634 L486,634 Z" fill="#080808"/></g></g><line x1="21" y1="671" x2="206" y2="671" stroke="#999" stroke-width="1"/><text x="23" y="507" font-size="20.5" fill="#fff">(E)</text><text x="61.5" y="504.3" font-size="15" fill="#fff"><tspan font-size="9.5" dy="-5.5">1</tspan><tspan dy="5.5">H </tspan><tspan font-style="italic">T</tspan><tspan font-size="9.5" dy="3.5">2</tspan><tspan dy="-3.5">-weighted MRI</tspan></text><text x="313" y="504" text-anchor="middle" font-size="15" fill="#fff">NAC</text><text x="523" y="504.3" text-anchor="middle" font-size="15" fill="#fff">NAC-GSH</text><defs><linearGradient id="cb" x1="0" y1="1" x2="0" y2="0"><stop offset="0" stop-color="#5e5e5e"/><stop offset="0.18" stop-color="#8a4c4c"/><stop offset="0.38" stop-color="#ea4646"/><stop offset="0.55" stop-color="#f28c40"/><stop offset="0.72" stop-color="#f2e838"/><stop offset="0.88" stop-color="#fafab0"/><stop offset="1" stop-color="#fffffa"/></linearGradient></defs><rect x="408.5" y="582" width="4.5" height="89" fill="url(#cb)" stroke="#888" stroke-width="0.5"/><rect x="624.5" y="582" width="4.5" height="89" fill="url(#cb)" stroke="#888" stroke-width="0.5"/><text x="415" y="600.7" font-size="10" fill="#222">2</text><text x="415" y="638.2" font-size="10" fill="#222">1</text><text x="415" y="677" font-size="10" fill="#222">0</text><text x="632" y="593" font-size="10" fill="#222">8</text><text x="632" y="617" font-size="10" fill="#222">6</text><text x="632" y="642" font-size="10" fill="#222">4</text><text x="632" y="668" font-size="10" fill="#222">2</text></svg></body></html>
